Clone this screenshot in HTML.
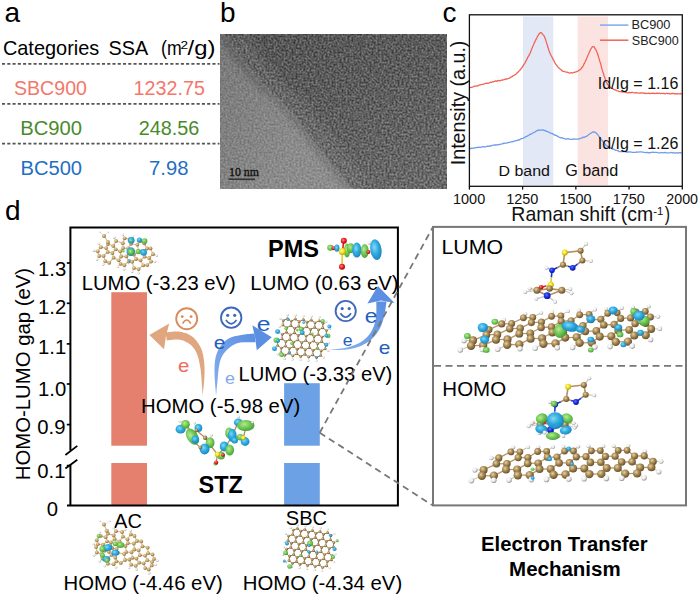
<!DOCTYPE html>
<html><head><meta charset="utf-8"><style>
html,body{margin:0;padding:0;background:#fff;width:700px;height:597px;overflow:hidden}
svg{display:block}
text{white-space:pre}
</style></head><body>
<svg width="700" height="597" viewBox="0 0 700 597">
<text transform="translate(5.70,21.90) scale(1.0000,1) translate(-1.12,0)" font-family='"Liberation Sans",sans-serif' font-weight="normal" font-size="28" fill="#000">a</text>
<text transform="translate(3.90,54.80) scale(0.9773,1) translate(-1.02,0)" font-family='"Liberation Sans",sans-serif' font-weight="normal" font-size="20.4" fill="#000">Categories</text>
<text transform="translate(109.40,54.60) scale(0.9704,1) translate(-0.92,0)" font-family='"Liberation Sans",sans-serif' font-weight="normal" font-size="20.4" fill="#000">SSA</text>
<text transform="translate(162.10,54.60) scale(0.8678,1) translate(-1.22,0)" font-family='"Liberation Sans",sans-serif' font-weight="normal" font-size="20.4" fill="#000">(m</text>
<text transform="translate(181.20,48.70) scale(1.1548,1) translate(-0.59,0)" font-family='"Liberation Sans",sans-serif' font-weight="normal" font-size="11.8" fill="#000">2</text>
<text transform="translate(187.60,54.60) scale(1.1711,1) translate(-0.00,0)" font-family='"Liberation Sans",sans-serif' font-weight="normal" font-size="20.4" fill="#000">/g)</text>
<line x1="2" y1="63.8" x2="219.5" y2="63.8" stroke="#555" stroke-width="1.7" stroke-dasharray="3.1 2.16"/>
<line x1="2" y1="103.9" x2="219.5" y2="103.9" stroke="#555" stroke-width="1.7" stroke-dasharray="3.1 2.16"/>
<line x1="2" y1="143.7" x2="219.5" y2="143.7" stroke="#555" stroke-width="1.7" stroke-dasharray="3.1 2.16"/>
<text transform="translate(14.80,94.60) scale(0.9663,1) translate(-0.91,0)" font-family='"Liberation Sans",sans-serif' font-weight="normal" font-size="20.3" fill="#F3786B">SBC900</text>
<text transform="translate(135.10,94.60) scale(0.9711,1) translate(-1.52,0)" font-family='"Liberation Sans",sans-serif' font-weight="normal" font-size="20.3" fill="#F3786B">1232.75</text>
<text transform="translate(21.90,134.60) scale(0.9953,1) translate(-1.62,0)" font-family='"Liberation Sans",sans-serif' font-weight="normal" font-size="20.3" fill="#4A8A2C">BC900</text>
<text transform="translate(139.70,134.60) scale(0.9769,1) translate(-1.02,0)" font-family='"Liberation Sans",sans-serif' font-weight="normal" font-size="20.3" fill="#4A8A2C">248.56</text>
<text transform="translate(22.10,174.60) scale(0.9919,1) translate(-1.62,0)" font-family='"Liberation Sans",sans-serif' font-weight="normal" font-size="20.3" fill="#1F6FC2">BC500</text>
<text transform="translate(150.10,174.80) scale(0.9958,1) translate(-1.02,0)" font-family='"Liberation Sans",sans-serif' font-weight="normal" font-size="20.3" fill="#1F6FC2">7.98</text>
<text transform="translate(221.70,22.00) scale(1.0000,1) translate(-1.82,0)" font-family='"Liberation Sans",sans-serif' font-weight="normal" font-size="28" fill="#000">b</text>

<defs>
 <clipPath id="temclip"><rect x="220" y="34" width="227" height="155"/></clipPath>
 <filter id="temnoise" x="0" y="0" width="100%" height="100%" color-interpolation-filters="sRGB">
  <feTurbulence type="fractalNoise" baseFrequency="0.5" numOctaves="2" seed="3" result="n"/>
  <feColorMatrix type="matrix" values="1 0 0 0 0  1 0 0 0 0  1 0 0 0 0  0 0 0 0 1"/>
  <feComponentTransfer><feFuncR type="linear" slope="2.0" intercept="-0.5"/><feFuncG type="linear" slope="2.0" intercept="-0.5"/><feFuncB type="linear" slope="2.0" intercept="-0.5"/></feComponentTransfer>
 </filter>
 <linearGradient id="temlight" x1="0" y1="0" x2="1" y2="0.3">
  <stop offset="0" stop-color="#787878"/><stop offset="0.5" stop-color="#8e8e8e"/><stop offset="1" stop-color="#959595"/>
 </linearGradient>
 <linearGradient id="temdark" x1="0.2" y1="0" x2="0.8" y2="1">
  <stop offset="0" stop-color="#484848"/><stop offset="0.45" stop-color="#525252"/><stop offset="1" stop-color="#636363"/>
 </linearGradient>
 <filter id="blur2"><feGaussianBlur stdDeviation="5"/></filter>
 <filter id="blur1"><feGaussianBlur stdDeviation="1"/></filter>
</defs>
<g clip-path="url(#temclip)">
 <rect x="220" y="34" width="227" height="155" fill="url(#temlight)"/>
 <path d="M218,34 C232,55 255,85 277,100 C295,118 313,145 330,165 C340,178 347,186 351,189 L447,189 L447,34 Z" fill="url(#temdark)" filter="url(#blur2)" opacity="0.8"/>
 <path d="M225,34 C238,55 260,85 280,100 C298,118 316,145 333,165 C343,178 350,186 354,189 L447,189 L447,34 Z" fill="url(#temdark)"/>
 <path d="M236,36 C249,56 271,86 291,101 C309,119 327,146 344,166 C354,179 361,187 365,190" fill="none" stroke="#7a7a7a" stroke-width="16" opacity="0.45" filter="url(#blur2)"/>
 <path d="M226,36 C239,56 261,86 281,101 C299,119 317,146 334,166 C344,179 351,187 355,190" fill="none" stroke="#aaa" stroke-width="1.2" opacity="0.5" filter="url(#blur1)"/>
 <clipPath id="darkclip"><path d="M225,34 C238,55 260,85 280,100 C298,118 316,145 333,165 C343,178 350,186 354,189 L447,189 L447,34 Z"/></clipPath>
 <rect x="220" y="34" width="227" height="155" filter="url(#temnoise)" opacity="0.14"/>
 <rect x="220" y="34" width="227" height="155" filter="url(#temnoise)" opacity="0.14" clip-path="url(#darkclip)"/>
</g>

<text stroke="#111" stroke-width="0.35" transform="translate(230.00,175.70) scale(0.9669,1) translate(-1.05,0)" font-family='"Liberation Serif",serif' font-weight="normal" font-size="12.3" fill="#111">10 nm</text>
<line x1="228.6" y1="179.2" x2="255" y2="179.2" stroke="#2a2a2a" stroke-width="1.4"/>
<text transform="translate(443.60,21.70) scale(1.0000,1) translate(-1.12,0)" font-family='"Liberation Sans",sans-serif' font-weight="normal" font-size="28" fill="#000">c</text>
<rect x="523" y="16.5" width="30.3" height="168.5" fill="#E3E8F6"/>
<rect x="577.7" y="16.5" width="30.2" height="168.5" fill="#FAE3E0"/>
<path d="M469.60,87.59 L470.14,87.54 L470.77,87.43 L471.48,87.36 L472.26,87.03 L473.11,86.95 L474.02,86.11 L474.99,86.18 L476.00,86.27 L477.05,85.81 L478.14,85.73 L479.25,84.91 L480.38,84.88 L481.53,84.45 L482.68,84.38 L483.83,84.13 L484.97,83.46 L486.09,83.33 L487.19,83.10 L488.27,83.29 L489.30,82.93 L490.30,82.26 L491.33,82.46 L492.38,81.76 L493.44,81.86 L494.52,81.29 L495.60,80.97 L496.69,81.36 L497.78,80.67 L498.86,80.45 L499.94,80.76 L501.01,80.45 L502.07,79.81 L503.11,80.05 L504.13,79.51 L505.12,79.35 L506.09,78.76 L507.03,79.01 L507.93,78.55 L508.80,78.45 L509.62,78.10 L510.40,77.36 L511.60,76.85 L512.69,76.15 L513.68,75.56 L514.59,74.91 L515.42,74.46 L516.21,74.03 L516.95,72.94 L517.66,72.71 L518.36,71.74 L519.05,70.94 L519.76,70.48 L520.50,69.39 L521.10,68.54 L521.69,67.90 L522.26,67.26 L522.83,65.98 L523.39,65.77 L523.94,64.23 L524.48,63.85 L525.01,63.00 L525.54,61.51 L526.05,61.12 L526.56,59.89 L527.06,59.11 L527.54,57.79 L528.03,56.89 L528.50,56.08 L528.96,55.70 L529.41,54.23 L529.85,53.66 L530.28,52.80 L530.70,51.83 L531.11,50.42 L531.51,49.44 L531.91,48.58 L532.30,47.78 L532.69,46.36 L533.07,45.88 L533.46,45.01 L533.84,44.18 L534.22,42.77 L534.60,42.61 L535.17,40.85 L535.74,39.85 L536.30,38.87 L536.85,37.97 L537.39,36.51 L537.93,35.96 L538.46,34.84 L538.98,33.97 L539.50,33.43 L540.00,32.97 L540.81,32.68 L541.57,32.91 L542.32,33.82 L543.06,34.91 L543.81,35.50 L544.60,36.88 L544.92,38.23 L545.24,38.70 L545.56,39.48 L545.87,40.30 L546.19,41.55 L546.51,42.77 L546.84,43.60 L547.16,44.69 L547.50,45.56 L547.84,47.29 L548.19,47.80 L548.55,49.23 L548.92,50.54 L549.30,51.07 L549.70,52.46 L550.14,53.63 L550.61,54.44 L551.09,55.58 L551.59,56.14 L552.10,57.40 L552.62,58.21 L553.14,59.70 L553.67,60.29 L554.20,61.34 L554.72,62.63 L555.23,63.38 L555.74,64.28 L556.23,64.67 L556.70,65.39 L557.49,66.63 L558.24,67.36 L558.97,67.99 L559.68,68.73 L560.40,69.11 L561.13,69.78 L561.89,70.68 L562.70,71.12 L563.67,71.39 L564.67,71.73 L565.70,71.98 L566.75,72.10 L567.83,72.45 L568.91,72.94 L570.00,73.06 L570.99,72.68 L572.02,72.89 L573.08,72.74 L574.14,72.47 L575.19,72.19 L576.19,71.95 L577.14,71.31 L578.00,71.14 L578.88,70.33 L579.68,69.90 L580.41,69.45 L581.08,68.69 L581.73,67.63 L582.36,67.24 L583.00,66.10 L583.48,65.28 L583.93,64.04 L584.36,63.54 L584.78,62.40 L585.19,61.73 L585.61,60.59 L586.05,59.82 L586.51,58.66 L587.00,57.71 L587.43,56.46 L587.89,55.61 L588.36,54.55 L588.85,53.44 L589.35,51.93 L589.85,51.13 L590.35,50.07 L590.84,48.97 L591.31,48.34 L591.77,47.67 L592.20,46.91 L593.08,46.57 L593.89,46.60 L594.66,47.88 L595.42,49.15 L596.20,50.28 L596.53,51.13 L596.87,51.94 L597.20,52.83 L597.53,53.39 L597.86,54.82 L598.19,55.74 L598.53,56.89 L598.86,57.84 L599.19,59.12 L599.53,60.36 L599.86,61.39 L600.20,62.55 L600.49,63.02 L600.77,64.11 L601.06,65.32 L601.34,66.51 L601.62,67.26 L601.90,68.65 L602.19,69.67 L602.47,70.32 L602.77,71.66 L603.06,72.52 L603.36,73.40 L603.67,74.43 L603.98,75.49 L604.30,76.28 L604.70,77.37 L605.07,78.31 L605.43,79.63 L605.80,80.56 L606.17,81.68 L606.56,82.59 L606.99,83.22 L607.47,84.53 L608.01,84.69 L608.61,85.73 L609.30,86.34 L609.98,87.04 L610.69,87.39 L611.44,88.42 L612.21,88.58 L613.04,88.79 L613.91,89.61 L614.83,89.63 L615.81,90.31 L616.85,90.50 L617.96,90.98 L619.14,91.54 L620.40,91.72 L621.18,91.60 L621.95,92.01 L622.73,92.02 L623.51,91.94 L624.30,91.89 L625.10,92.30 L625.93,92.36 L626.78,92.71 L627.66,92.78 L628.57,92.59 L629.52,92.46 L630.51,92.89 L631.55,92.32 L632.64,92.44 L633.78,92.80 L634.99,92.88 L636.26,92.59 L637.59,92.98 L639.01,93.22 L640.50,92.91 L641.27,92.98 L642.09,92.86 L642.95,92.94 L643.86,93.44 L644.80,93.05 L645.78,93.48 L646.79,93.48 L647.84,93.28 L648.91,93.07 L650.00,93.60 L651.12,93.28 L652.26,93.25 L653.42,93.21 L654.59,93.69 L655.77,93.37 L656.96,93.25 L658.16,93.41 L659.36,93.18 L660.56,93.55 L661.76,93.44 L662.95,93.36 L664.14,93.72 L665.32,93.77 L666.48,93.22 L667.63,93.60 L668.76,93.44 L669.87,93.92 L670.96,93.83 L672.02,93.47 L673.05,93.50 L674.05,93.43 L675.01,94.03 L675.94,93.56 L676.83,93.79 L677.67,93.71 L678.47,93.85 L679.23,93.83 L679.93,93.94 L680.58,93.51 L681.17,93.97 L681.70,93.80" fill="none" stroke="#F06558" stroke-width="1.3" stroke-linejoin="round"/>
<path d="M469.60,148.58 L470.13,148.38 L470.74,148.65 L471.41,148.15 L472.14,148.38 L472.94,148.15 L473.78,147.83 L474.68,148.02 L475.63,147.57 L476.61,147.72 L477.63,147.33 L478.69,147.21 L479.77,147.30 L480.89,147.43 L482.02,146.79 L483.16,146.70 L484.33,146.83 L485.49,146.89 L486.67,146.47 L487.84,146.18 L489.01,146.43 L490.17,145.61 L491.32,146.01 L492.45,145.45 L493.56,145.18 L494.65,144.99 L495.70,144.96 L496.73,145.16 L497.71,144.55 L498.65,144.67 L499.55,144.55 L500.40,144.21 L501.66,144.09 L502.89,143.51 L504.09,143.26 L505.27,143.12 L506.41,143.20 L507.53,142.77 L508.63,142.43 L509.70,142.37 L510.74,142.01 L511.75,141.65 L512.74,141.73 L513.70,141.41 L514.64,140.83 L515.55,140.80 L516.44,140.50 L517.30,140.49 L518.13,140.13 L518.95,139.56 L519.74,139.79 L520.50,138.93 L521.79,138.68 L522.93,138.46 L523.95,137.57 L524.88,137.34 L525.72,136.56 L526.52,136.54 L527.28,136.15 L528.04,135.57 L528.81,135.33 L529.63,134.50 L530.50,134.34 L531.41,133.81 L532.33,133.31 L533.25,132.72 L534.17,132.47 L535.08,132.03 L536.00,131.22 L536.92,130.92 L537.84,130.11 L538.76,130.26 L539.68,130.01 L540.60,130.15 L541.61,130.05 L542.62,129.82 L543.63,130.14 L544.64,130.67 L545.66,130.62 L546.67,131.37 L547.68,131.64 L548.69,132.07 L549.69,132.48 L550.70,133.39 L551.71,133.35 L552.73,133.87 L553.76,134.43 L554.79,135.24 L555.81,135.16 L556.83,135.89 L557.83,136.41 L558.81,137.06 L559.77,137.39 L560.70,137.75 L561.81,137.70 L562.88,138.10 L563.90,138.32 L564.91,138.91 L565.90,139.14 L566.91,138.73 L567.94,138.87 L569.00,139.01 L569.98,139.08 L570.99,139.30 L572.01,139.40 L573.04,139.17 L574.08,138.96 L575.11,139.20 L576.13,139.07 L577.13,139.10 L578.10,139.22 L579.16,138.82 L580.20,138.44 L581.22,138.20 L582.22,137.90 L583.21,137.10 L584.21,137.30 L585.20,136.81 L586.20,136.46 L587.22,135.90 L588.25,134.98 L589.30,134.29 L590.33,133.38 L591.35,133.12 L592.34,132.22 L593.30,131.93 L594.20,132.00 L595.05,132.23 L595.84,132.86 L596.59,133.36 L597.32,134.16 L598.03,135.19 L598.74,136.11 L599.46,137.23 L600.20,137.87 L600.85,139.21 L601.47,139.82 L602.08,140.32 L602.69,141.22 L603.32,142.12 L603.97,142.95 L604.68,143.58 L605.45,144.84 L606.30,145.65 L607.05,145.82 L607.85,146.37 L608.69,146.62 L609.56,147.14 L610.46,147.80 L611.39,148.21 L612.34,149.05 L613.32,149.00 L614.30,149.29 L615.30,150.30 L616.30,150.32 L617.10,150.31 L617.72,150.80 L618.21,150.62 L618.65,151.13 L619.11,151.57 L619.64,151.60 L620.33,151.59 L621.24,151.37 L622.43,151.53 L623.97,151.47 L625.94,151.99 L628.40,151.92 L629.04,152.12 L629.73,151.83 L630.46,151.78 L631.23,152.22 L632.05,152.36 L632.90,152.29 L633.79,152.28 L634.72,152.32 L635.68,152.28 L636.67,151.95 L637.69,152.18 L638.73,152.09 L639.81,151.88 L640.90,151.90 L642.02,152.10 L643.16,152.11 L644.31,152.43 L645.48,152.64 L646.67,152.31 L647.86,152.67 L649.07,152.73 L650.28,152.73 L651.51,152.33 L652.73,152.25 L653.96,152.28 L655.19,152.28 L656.42,152.30 L657.65,152.62 L658.87,152.83 L660.08,152.81 L661.28,152.57 L662.48,152.71 L663.66,152.83 L664.83,152.35 L665.98,152.77 L667.11,152.96 L668.22,152.89 L669.31,152.88 L670.37,152.71 L671.41,152.51 L672.43,152.96 L673.41,152.65 L674.36,152.99 L675.27,153.13 L676.16,152.74 L677.00,152.75 L677.80,153.15 L678.57,153.00 L679.29,152.63 L679.96,152.61 L680.59,152.64 L681.17,153.17 L681.70,152.90" fill="none" stroke="#6F9DEB" stroke-width="1.3" stroke-linejoin="round"/>
<rect x="469.4" y="14.8" width="212.89999999999998" height="171.5" fill="none" stroke="#111" stroke-width="1.3"/>
<line x1="469.40" y1="186.3" x2="469.40" y2="189.60000000000002" stroke="#111" stroke-width="1.3"/>
<line x1="522.62" y1="186.3" x2="522.62" y2="189.60000000000002" stroke="#111" stroke-width="1.3"/>
<line x1="575.85" y1="186.3" x2="575.85" y2="189.60000000000002" stroke="#111" stroke-width="1.3"/>
<line x1="629.07" y1="186.3" x2="629.07" y2="189.60000000000002" stroke="#111" stroke-width="1.3"/>
<line x1="682.30" y1="186.3" x2="682.30" y2="189.60000000000002" stroke="#111" stroke-width="1.3"/>
<line x1="600" y1="25.1" x2="628.4" y2="25.1" stroke="#7FA8F0" stroke-width="1.5"/>
<line x1="600" y1="40.2" x2="628.4" y2="40.2" stroke="#F06558" stroke-width="1.5"/>
<text transform="translate(632.40,29.30) scale(1.0398,1) translate(-0.98,0)" font-family='"Liberation Sans",sans-serif' font-weight="normal" font-size="12.3" fill="#222">BC900</text>
<text transform="translate(632.40,44.70) scale(1.0238,1) translate(-0.55,0)" font-family='"Liberation Sans",sans-serif' font-weight="normal" font-size="12.3" fill="#222">SBC900</text>
<text transform="translate(599.20,88.50) scale(1.0269,1) translate(-1.40,0)" font-family='"Liberation Sans",sans-serif' font-weight="normal" font-size="15.6" fill="#111">Id/Ig = 1.16</text>
<text transform="translate(599.20,148.90) scale(1.0269,1) translate(-1.40,0)" font-family='"Liberation Sans",sans-serif' font-weight="normal" font-size="15.6" fill="#111">Id/Ig = 1.26</text>
<text transform="translate(499.70,175.90) scale(1.0462,1) translate(-1.22,0)" font-family='"Liberation Sans",sans-serif' font-weight="normal" font-size="15.3" fill="#111">D band</text>
<text transform="translate(566.00,176.00) scale(1.0390,1) translate(-0.78,0)" font-family='"Liberation Sans",sans-serif' font-weight="normal" font-size="15.6" fill="#111">G band</text>
<text transform="translate(454.10,203.70) scale(0.9645,1) translate(-1.12,0)" font-family='"Liberation Sans",sans-serif' font-weight="normal" font-size="15.0" fill="#111">1000</text>
<text transform="translate(507.32,203.70) scale(0.9645,1) translate(-1.12,0)" font-family='"Liberation Sans",sans-serif' font-weight="normal" font-size="15.0" fill="#111">1250</text>
<text transform="translate(560.55,203.70) scale(0.9645,1) translate(-1.12,0)" font-family='"Liberation Sans",sans-serif' font-weight="normal" font-size="15.0" fill="#111">1500</text>
<text transform="translate(613.77,203.70) scale(0.9645,1) translate(-1.12,0)" font-family='"Liberation Sans",sans-serif' font-weight="normal" font-size="15.0" fill="#111">1750</text>
<text transform="translate(667.00,203.70) scale(0.9533,1) translate(-0.75,0)" font-family='"Liberation Sans",sans-serif' font-weight="normal" font-size="15.0" fill="#111">2000</text>
<text transform="translate(512.90,221.30) scale(0.9797,1) translate(-1.59,0)" font-family='"Liberation Sans",sans-serif' font-weight="normal" font-size="19.9" fill="#111">Raman shift (cm</text>
<text transform="translate(653.70,215.20) scale(0.9829,1) translate(-0.53,0)" font-family='"Liberation Sans",sans-serif' font-weight="normal" font-size="11.7" fill="#111">-1</text>
<text transform="translate(664.90,221.30) scale(0.7964,1) translate(-0.10,0)" font-family='"Liberation Sans",sans-serif' font-weight="normal" font-size="19.9" fill="#111">)</text>
<text transform="translate(464.70,163.50) rotate(-90) scale(0.9992,1) translate(-1.77,0)" font-family='"Liberation Sans",sans-serif' font-weight="normal" font-size="19.7" fill="#111">Intensity (a.u.)</text>
<text transform="translate(6.00,219.50) scale(1.0000,1) translate(-1.12,0)" font-family='"Liberation Sans",sans-serif' font-weight="normal" font-size="28" fill="#000">d</text>
<rect x="111.3" y="292.2" width="35.70" height="153.50" fill="#E5806F"/>
<rect x="111.3" y="463.0" width="35.70" height="42.10" fill="#E5806F"/>
<rect x="284.1" y="383.2" width="35.70" height="62.50" fill="#6DA1E6"/>
<rect x="284.1" y="463.0" width="35.70" height="42.10" fill="#6DA1E6"/>
<path d="M70.4,450.5 L70.4,227.5 L397.9,227.5 L397.9,505.4 L67.0,505.4" fill="none" stroke="#000" stroke-width="2"/>
<path d="M70.4,464.7 L70.4,505.4" fill="none" stroke="#000" stroke-width="2"/>
<path d="M65.4,455 L77.3,445.9 M65.4,468.5 L77.3,459.7" stroke="#000" stroke-width="1.8"/>
<line x1="66.8" y1="263.0" x2="70.4" y2="263.0" stroke="#000" stroke-width="1.7"/>
<line x1="66.8" y1="303.3" x2="70.4" y2="303.3" stroke="#000" stroke-width="1.7"/>
<line x1="66.8" y1="343.9" x2="70.4" y2="343.9" stroke="#000" stroke-width="1.7"/>
<line x1="66.8" y1="384.0" x2="70.4" y2="384.0" stroke="#000" stroke-width="1.7"/>
<line x1="66.8" y1="424.6" x2="70.4" y2="424.6" stroke="#000" stroke-width="1.7"/>
<line x1="66.8" y1="465.6" x2="70.4" y2="465.6" stroke="#000" stroke-width="1.7"/>
<text transform="translate(39.60,276.30) scale(1.0000,1) translate(-1.52,0)" font-family='"Liberation Sans",sans-serif' font-weight="normal" font-size="20.3" fill="#000">1.3</text>
<text transform="translate(39.60,314.30) scale(1.0000,1) translate(-1.52,0)" font-family='"Liberation Sans",sans-serif' font-weight="normal" font-size="20.3" fill="#000">1.2</text>
<text transform="translate(39.60,353.80) scale(1.0000,1) translate(-1.52,0)" font-family='"Liberation Sans",sans-serif' font-weight="normal" font-size="20.3" fill="#000">1.1</text>
<text transform="translate(39.60,396.20) scale(1.0000,1) translate(-1.52,0)" font-family='"Liberation Sans",sans-serif' font-weight="normal" font-size="20.3" fill="#000">1.0</text>
<text transform="translate(38.10,434.30) scale(1.0000,1) translate(-0.81,0)" font-family='"Liberation Sans",sans-serif' font-weight="normal" font-size="20.3" fill="#000">0.9</text>
<text transform="translate(38.10,478.20) scale(1.0000,1) translate(-0.81,0)" font-family='"Liberation Sans",sans-serif' font-weight="normal" font-size="20.3" fill="#000">0.1</text>
<text transform="translate(47.50,516.40) scale(1.0000,1) translate(-0.81,0)" font-family='"Liberation Sans",sans-serif' font-weight="normal" font-size="20.3" fill="#000">0</text>
<text transform="translate(30.20,478.50) rotate(-90) scale(0.9817,1) translate(-1.66,0)" font-family='"Liberation Sans",sans-serif' font-weight="normal" font-size="20.7" fill="#000">HOMO-LUMO gap (eV)</text>
<text transform="translate(83.30,290.40) scale(0.9929,1) translate(-1.63,0)" font-family='"Liberation Sans",sans-serif' font-weight="normal" font-size="20.4" fill="#000">LUMO (-3.23 eV)</text>
<text transform="translate(252.00,290.20) scale(0.9983,1) translate(-1.63,0)" font-family='"Liberation Sans",sans-serif' font-weight="normal" font-size="20.4" fill="#000">LUMO (0.63 eV)</text>
<text transform="translate(142.60,412.60) scale(0.9970,1) translate(-1.63,0)" font-family='"Liberation Sans",sans-serif' font-weight="normal" font-size="20.4" fill="#000">HOMO (-5.98 eV)</text>
<text transform="translate(240.10,380.90) scale(0.9915,1) translate(-1.63,0)" font-family='"Liberation Sans",sans-serif' font-weight="normal" font-size="20.4" fill="#000">LUMO (-3.33 eV)</text>
<text transform="translate(65.10,590.40) scale(0.9970,1) translate(-1.63,0)" font-family='"Liberation Sans",sans-serif' font-weight="normal" font-size="20.4" fill="#000">HOMO (-4.46 eV)</text>
<text transform="translate(244.30,590.40) scale(0.9989,1) translate(-1.63,0)" font-family='"Liberation Sans",sans-serif' font-weight="normal" font-size="20.4" fill="#000">HOMO (-4.34 eV)</text>
<text transform="translate(269.50,257.20) scale(0.9745,1) translate(-1.57,0)" font-family='"Liberation Sans",sans-serif' font-weight="bold" font-size="24.2" fill="#000">PMS</text>
<text transform="translate(199.30,492.90) scale(0.9706,1) translate(-0.73,0)" font-family='"Liberation Sans",sans-serif' font-weight="bold" font-size="24.2" fill="#000">STZ</text>
<text transform="translate(114.10,527.60) scale(0.9804,1) translate(-0.00,0)" font-family='"Liberation Sans",sans-serif' font-weight="normal" font-size="20.4" fill="#000">AC</text>
<text transform="translate(286.70,524.60) scale(0.9829,1) translate(-0.92,0)" font-family='"Liberation Sans",sans-serif' font-weight="normal" font-size="20.4" fill="#000">SBC</text>
<path d="M165.70,332.40 C167.85,332.27 174.67,331.20 178.60,331.60 C182.53,332.00 186.27,333.20 189.30,334.80 C192.33,336.40 194.67,338.48 196.80,341.20 C198.93,343.92 200.83,347.13 202.10,351.10 C203.37,355.07 204.05,360.18 204.40,365.00 C204.75,369.82 204.50,374.92 204.20,380.00 C203.90,385.08 202.87,392.92 202.60,395.50 L202.60,395.50 C202.45,393.27 202.03,386.47 201.70,382.10 C201.37,377.73 201.23,373.58 200.60,369.30 C199.97,365.02 199.07,359.97 197.90,356.40 C196.73,352.83 195.40,350.22 193.60,347.90 C191.80,345.58 189.60,343.88 187.10,342.50 C184.60,341.12 181.98,339.95 178.60,339.60 C175.22,339.25 168.77,340.27 166.80,340.40 Z" fill="#DFA67F"/>
<path d="M149.4,335 L169.2,323.6 L166,336 L164,349.2 Z" fill="#DFA67F"/>
<defs><linearGradient id="bl1" x1="0" y1="1" x2="1" y2="0"><stop offset="0" stop-color="#85B0EE"/><stop offset="0.6" stop-color="#6D9CE7"/><stop offset="1" stop-color="#5C8FE2"/></linearGradient>
<linearGradient id="bl2" x1="0" y1="1" x2="1" y2="0"><stop offset="0" stop-color="#8CB5EF"/><stop offset="0.5" stop-color="#6F9EE8"/><stop offset="1" stop-color="#5B8FE2"/></linearGradient></defs>
<path d="M216.10,395.50 C215.85,392.20 214.78,381.50 214.60,375.70 C214.42,369.90 214.40,364.98 215.00,360.70 C215.60,356.42 216.77,353.03 218.20,350.00 C219.63,346.97 221.28,344.65 223.60,342.50 C225.92,340.35 228.88,338.38 232.10,337.10 C235.32,335.82 239.17,335.38 242.90,334.80 C246.63,334.22 252.57,333.80 254.50,333.60 L255.50,342.30 C253.40,342.30 246.43,341.95 242.90,342.30 C239.37,342.65 236.98,343.12 234.30,344.40 C231.62,345.68 228.95,347.82 226.80,350.00 C224.65,352.18 222.72,354.65 221.40,357.50 C220.08,360.35 219.53,363.35 218.90,367.10 C218.27,370.85 218.07,375.27 217.60,380.00 C217.13,384.73 216.35,392.92 216.10,395.50 Z" fill="url(#bl1)"/>
<path d="M271.8,337.3 L252.3,325.2 L255.2,338 L256.8,350.2 Z" fill="#5C8FE2"/>
<path d="M329.40,349.90 C332.30,349.48 341.67,348.63 346.80,347.40 C351.93,346.17 356.45,344.65 360.20,342.50 C363.95,340.35 366.92,337.55 369.30,334.50 C371.68,331.45 373.33,327.70 374.50,324.20 C375.67,320.70 376.00,317.30 376.30,313.50 C376.60,309.70 376.30,303.42 376.30,301.40 L386.50,301.40 C386.15,303.67 385.52,310.47 384.40,315.00 C383.28,319.53 381.97,324.50 379.80,328.60 C377.63,332.70 374.67,336.67 371.40,339.60 C368.13,342.53 364.30,344.57 360.20,346.20 C356.10,347.83 351.93,348.78 346.80,349.40 C341.67,350.02 332.30,349.82 329.40,349.90 Z" fill="url(#bl2)"/>
<path d="M377.9,286 L367.4,303.6 L381,300.5 L394.6,302.9 Z" fill="#5C8FE2"/>
<path d="M319.7,432.7 L433,226.9 M319.7,432.7 L432,505" stroke="#777" stroke-width="1.8" stroke-dasharray="6.5 4.5" fill="none"/>
<circle cx="186.7" cy="318.7" r="10.5" fill="none" stroke="#D88C5C" stroke-width="1.85"/><circle cx="182.2" cy="316.59999999999997" r="1.45" fill="#D88C5C"/><circle cx="191.1" cy="316.59999999999997" r="1.45" fill="#D88C5C"/><path d="M182.6,323.59999999999997 Q186.7,316.4 190.79999999999998,323.59999999999997" fill="none" stroke="#D88C5C" stroke-width="1.6"/>
<circle cx="231.2" cy="317.7" r="10.2" fill="none" stroke="#3F68BD" stroke-width="1.85"/><circle cx="227.7" cy="315.3" r="1.6" fill="#3F68BD"/><circle cx="234.7" cy="315.3" r="1.6" fill="#3F68BD"/><path d="M225.89999999999998,319.9 Q231.2,327.9 236.5,319.9" fill="none" stroke="#3F68BD" stroke-width="1.6"/>
<circle cx="345.7" cy="311.0" r="10.1" fill="none" stroke="#3F68BD" stroke-width="1.85"/><circle cx="342.2" cy="308.6" r="1.6" fill="#3F68BD"/><circle cx="349.2" cy="308.6" r="1.6" fill="#3F68BD"/><path d="M340.4,313.2 Q345.7,321.2 351.0,313.2" fill="none" stroke="#3F68BD" stroke-width="1.6"/>
<text transform="translate(178.90,371.50) scale(1.1348,1) translate(-0.72,0)" font-family='"Liberation Sans",sans-serif' font-weight="normal" font-size="18" fill="#F06A5C">e</text>
<text transform="translate(214.50,348.50) scale(1.1702,1) translate(-0.72,0)" font-family='"Liberation Sans",sans-serif' font-weight="normal" font-size="18" fill="#1E60C0">e</text>
<text transform="translate(257.80,331.00) scale(1.2039,1) translate(-0.82,0)" font-family='"Liberation Sans",sans-serif' font-weight="normal" font-size="20.5" fill="#1E60C0">e</text>
<text transform="translate(225.70,384.00) scale(1.1170,1) translate(-0.64,0)" font-family='"Liberation Sans",sans-serif' font-weight="normal" font-size="16" fill="#80AAEC">e</text>
<text transform="translate(343.50,346.20) scale(1.1177,1) translate(-0.63,0)" font-family='"Liberation Sans",sans-serif' font-weight="normal" font-size="15.8" fill="#1E60C0">e</text>
<text transform="translate(365.60,322.80) scale(1.0998,1) translate(-0.83,0)" font-family='"Liberation Sans",sans-serif' font-weight="normal" font-size="20.7" fill="#1E60C0">e</text>
<text transform="translate(379.60,353.60) scale(1.1584,1) translate(-0.72,0)" font-family='"Liberation Sans",sans-serif' font-weight="normal" font-size="18" fill="#1E60C0">e</text>
<rect x="433" y="226.9" width="253" height="278.5" fill="none" stroke="#777" stroke-width="2"/>
<line x1="434" y1="365.8" x2="685" y2="365.8" stroke="#777" stroke-width="1.8" stroke-dasharray="7 4.5"/>
<text transform="translate(443.20,253.80) scale(1.0443,1) translate(-1.63,0)" font-family='"Liberation Sans",sans-serif' font-weight="normal" font-size="20.4" fill="#000">LUMO</text>
<text transform="translate(444.00,396.20) scale(1.0050,1) translate(-1.63,0)" font-family='"Liberation Sans",sans-serif' font-weight="normal" font-size="20.4" fill="#000">HOMO</text>
<text transform="translate(482.40,551.40) scale(0.9888,1) translate(-1.33,0)" font-family='"Liberation Sans",sans-serif' font-weight="bold" font-size="20.5" fill="#000">Electron Transfer</text>
<text transform="translate(510.40,575.80) scale(0.9994,1) translate(-1.33,0)" font-family='"Liberation Sans",sans-serif' font-weight="bold" font-size="20.5" fill="#000">Mechanism</text>
<defs>
<radialGradient id="gC" cx="0.38" cy="0.35" r="0.7"><stop offset="0" stop-color="#E8D2A2"/><stop offset="0.45" stop-color="#A88A55"/><stop offset="1" stop-color="#5E4826"/></radialGradient>
<radialGradient id="gC2" cx="0.38" cy="0.35" r="0.65"><stop offset="0" stop-color="#EED9A8"/><stop offset="0.5" stop-color="#C9A86E"/><stop offset="1" stop-color="#8A6E40"/></radialGradient>
<radialGradient id="gH" cx="0.38" cy="0.35" r="0.65"><stop offset="0" stop-color="#FFFFFF"/><stop offset="0.6" stop-color="#E8E8E8"/><stop offset="1" stop-color="#8E8E8E"/></radialGradient>
<radialGradient id="gB" cx="0.4" cy="0.38" r="0.65"><stop offset="0" stop-color="#7FD8F8"/><stop offset="0.5" stop-color="#25A8E0"/><stop offset="1" stop-color="#127EB8"/></radialGradient>
<radialGradient id="gG" cx="0.4" cy="0.38" r="0.65"><stop offset="0" stop-color="#B6EA8A"/><stop offset="0.5" stop-color="#6CC850"/><stop offset="1" stop-color="#3F9A30"/></radialGradient>
<radialGradient id="gS" cx="0.4" cy="0.38" r="0.65"><stop offset="0" stop-color="#FFFFA0"/><stop offset="0.5" stop-color="#F0E020"/><stop offset="1" stop-color="#B0A000"/></radialGradient>
<radialGradient id="gN" cx="0.4" cy="0.38" r="0.65"><stop offset="0" stop-color="#7070FF"/><stop offset="0.5" stop-color="#1530E0"/><stop offset="1" stop-color="#0A1A90"/></radialGradient>
<radialGradient id="gO" cx="0.4" cy="0.38" r="0.65"><stop offset="0" stop-color="#FF9090"/><stop offset="0.5" stop-color="#F02020"/><stop offset="1" stop-color="#A00000"/></radialGradient>
</defs>
<line x1="471.1" y1="345.7" x2="473.0" y2="340.4" stroke="#B89868" stroke-width="1.3"/>
<line x1="471.1" y1="345.7" x2="483.1" y2="345.4" stroke="#B89868" stroke-width="1.3"/>
<line x1="473.0" y1="340.4" x2="486.4" y2="334.8" stroke="#B89868" stroke-width="1.3"/>
<line x1="486.4" y1="334.8" x2="488.8" y2="329.6" stroke="#B89868" stroke-width="1.3"/>
<line x1="486.4" y1="334.8" x2="497.4" y2="334.4" stroke="#B89868" stroke-width="1.3"/>
<line x1="488.8" y1="329.6" x2="501.7" y2="323.9" stroke="#B89868" stroke-width="1.3"/>
<line x1="501.7" y1="323.9" x2="511.6" y2="323.5" stroke="#B89868" stroke-width="1.3"/>
<line x1="483.1" y1="345.4" x2="496.0" y2="339.7" stroke="#B89868" stroke-width="1.3"/>
<line x1="496.0" y1="339.7" x2="497.4" y2="334.4" stroke="#B89868" stroke-width="1.3"/>
<line x1="496.0" y1="339.7" x2="507.5" y2="339.4" stroke="#B89868" stroke-width="1.3"/>
<line x1="497.4" y1="334.4" x2="509.7" y2="328.7" stroke="#B89868" stroke-width="1.3"/>
<line x1="509.7" y1="328.7" x2="511.6" y2="323.5" stroke="#B89868" stroke-width="1.3"/>
<line x1="509.7" y1="328.7" x2="520.2" y2="328.3" stroke="#B89868" stroke-width="1.3"/>
<line x1="511.6" y1="323.5" x2="523.4" y2="317.8" stroke="#B89868" stroke-width="1.3"/>
<line x1="523.4" y1="317.8" x2="532.8" y2="317.3" stroke="#B89868" stroke-width="1.3"/>
<line x1="507.2" y1="344.8" x2="507.5" y2="339.4" stroke="#B89868" stroke-width="1.3"/>
<line x1="507.2" y1="344.8" x2="519.3" y2="344.4" stroke="#B89868" stroke-width="1.3"/>
<line x1="507.5" y1="339.4" x2="519.3" y2="333.7" stroke="#B89868" stroke-width="1.3"/>
<line x1="519.3" y1="333.7" x2="520.2" y2="328.3" stroke="#B89868" stroke-width="1.3"/>
<line x1="519.3" y1="333.7" x2="530.3" y2="333.3" stroke="#B89868" stroke-width="1.3"/>
<line x1="520.2" y1="328.3" x2="531.4" y2="322.6" stroke="#B89868" stroke-width="1.3"/>
<line x1="531.4" y1="322.6" x2="532.8" y2="317.3" stroke="#B89868" stroke-width="1.3"/>
<line x1="531.4" y1="322.6" x2="541.4" y2="322.1" stroke="#B89868" stroke-width="1.3"/>
<line x1="519.3" y1="344.4" x2="530.6" y2="338.7" stroke="#B89868" stroke-width="1.3"/>
<line x1="530.6" y1="338.7" x2="530.3" y2="333.3" stroke="#B89868" stroke-width="1.3"/>
<line x1="530.6" y1="338.7" x2="542.1" y2="338.3" stroke="#B89868" stroke-width="1.3"/>
<line x1="530.3" y1="333.3" x2="541.1" y2="327.5" stroke="#B89868" stroke-width="1.3"/>
<line x1="541.1" y1="327.5" x2="541.4" y2="322.1" stroke="#B89868" stroke-width="1.3"/>
<line x1="541.1" y1="327.5" x2="551.5" y2="327.0" stroke="#B89868" stroke-width="1.3"/>
<line x1="541.4" y1="322.1" x2="551.6" y2="316.3" stroke="#B89868" stroke-width="1.3"/>
<line x1="551.6" y1="316.3" x2="560.9" y2="315.8" stroke="#B89868" stroke-width="1.3"/>
<line x1="543.4" y1="343.8" x2="542.1" y2="338.3" stroke="#B89868" stroke-width="1.3"/>
<line x1="543.4" y1="343.8" x2="555.5" y2="343.5" stroke="#B89868" stroke-width="1.3"/>
<line x1="542.1" y1="338.3" x2="552.3" y2="332.5" stroke="#B89868" stroke-width="1.3"/>
<line x1="552.3" y1="332.5" x2="551.5" y2="327.0" stroke="#B89868" stroke-width="1.3"/>
<line x1="552.3" y1="332.5" x2="563.3" y2="332.1" stroke="#B89868" stroke-width="1.3"/>
<line x1="551.5" y1="327.0" x2="561.2" y2="321.2" stroke="#B89868" stroke-width="1.3"/>
<line x1="561.2" y1="321.2" x2="560.9" y2="315.8" stroke="#B89868" stroke-width="1.3"/>
<line x1="561.2" y1="321.2" x2="571.1" y2="320.7" stroke="#B89868" stroke-width="1.3"/>
<line x1="555.5" y1="343.5" x2="565.2" y2="337.6" stroke="#B89868" stroke-width="1.3"/>
<line x1="565.2" y1="337.6" x2="563.3" y2="332.1" stroke="#B89868" stroke-width="1.3"/>
<line x1="565.2" y1="337.6" x2="576.7" y2="337.3" stroke="#B89868" stroke-width="1.3"/>
<line x1="563.3" y1="332.1" x2="572.4" y2="326.2" stroke="#B89868" stroke-width="1.3"/>
<line x1="572.4" y1="326.2" x2="571.1" y2="320.7" stroke="#B89868" stroke-width="1.3"/>
<line x1="572.4" y1="326.2" x2="582.9" y2="325.8" stroke="#B89868" stroke-width="1.3"/>
<line x1="571.1" y1="320.7" x2="579.7" y2="314.8" stroke="#B89868" stroke-width="1.3"/>
<line x1="579.7" y1="314.8" x2="589.1" y2="314.3" stroke="#B89868" stroke-width="1.3"/>
<line x1="579.6" y1="342.9" x2="576.7" y2="337.3" stroke="#B89868" stroke-width="1.3"/>
<line x1="579.6" y1="342.9" x2="591.7" y2="342.6" stroke="#B89868" stroke-width="1.3"/>
<line x1="576.7" y1="337.3" x2="585.3" y2="331.3" stroke="#B89868" stroke-width="1.3"/>
<line x1="585.3" y1="331.3" x2="582.9" y2="325.8" stroke="#B89868" stroke-width="1.3"/>
<line x1="585.3" y1="331.3" x2="596.3" y2="330.9" stroke="#B89868" stroke-width="1.3"/>
<line x1="582.9" y1="325.8" x2="590.9" y2="319.8" stroke="#B89868" stroke-width="1.3"/>
<line x1="590.9" y1="319.8" x2="589.1" y2="314.3" stroke="#B89868" stroke-width="1.3"/>
<line x1="590.9" y1="319.8" x2="600.8" y2="319.3" stroke="#B89868" stroke-width="1.3"/>
<line x1="591.7" y1="342.6" x2="599.7" y2="336.6" stroke="#B89868" stroke-width="1.3"/>
<line x1="599.7" y1="336.6" x2="596.3" y2="330.9" stroke="#B89868" stroke-width="1.3"/>
<line x1="599.7" y1="336.6" x2="611.3" y2="336.2" stroke="#B89868" stroke-width="1.3"/>
<line x1="596.3" y1="330.9" x2="603.8" y2="324.9" stroke="#B89868" stroke-width="1.3"/>
<line x1="603.8" y1="324.9" x2="600.8" y2="319.3" stroke="#B89868" stroke-width="1.3"/>
<line x1="603.8" y1="324.9" x2="614.2" y2="324.5" stroke="#B89868" stroke-width="1.3"/>
<line x1="600.8" y1="319.3" x2="607.8" y2="313.3" stroke="#B89868" stroke-width="1.3"/>
<line x1="607.8" y1="313.3" x2="617.2" y2="312.8" stroke="#B89868" stroke-width="1.3"/>
<line x1="615.8" y1="341.9" x2="611.3" y2="336.2" stroke="#B89868" stroke-width="1.3"/>
<line x1="615.8" y1="341.9" x2="627.9" y2="341.6" stroke="#B89868" stroke-width="1.3"/>
<line x1="611.3" y1="336.2" x2="618.2" y2="330.2" stroke="#B89868" stroke-width="1.3"/>
<line x1="618.2" y1="330.2" x2="614.2" y2="324.5" stroke="#B89868" stroke-width="1.3"/>
<line x1="618.2" y1="330.2" x2="629.2" y2="329.8" stroke="#B89868" stroke-width="1.3"/>
<line x1="614.2" y1="324.5" x2="620.7" y2="318.4" stroke="#B89868" stroke-width="1.3"/>
<line x1="620.7" y1="318.4" x2="617.2" y2="312.8" stroke="#B89868" stroke-width="1.3"/>
<line x1="620.7" y1="318.4" x2="630.6" y2="317.9" stroke="#B89868" stroke-width="1.3"/>
<line x1="627.9" y1="341.6" x2="634.3" y2="335.5" stroke="#B89868" stroke-width="1.3"/>
<line x1="634.3" y1="335.5" x2="629.2" y2="329.8" stroke="#B89868" stroke-width="1.3"/>
<line x1="634.3" y1="335.5" x2="645.8" y2="335.2" stroke="#B89868" stroke-width="1.3"/>
<line x1="629.2" y1="329.8" x2="635.1" y2="323.6" stroke="#B89868" stroke-width="1.3"/>
<line x1="635.1" y1="323.6" x2="630.6" y2="317.9" stroke="#B89868" stroke-width="1.3"/>
<line x1="635.1" y1="323.6" x2="645.6" y2="323.2" stroke="#B89868" stroke-width="1.3"/>
<line x1="630.6" y1="317.9" x2="635.9" y2="311.8" stroke="#B89868" stroke-width="1.3"/>
<line x1="635.9" y1="311.8" x2="645.3" y2="311.3" stroke="#B89868" stroke-width="1.3"/>
<line x1="645.8" y1="335.2" x2="651.2" y2="329.0" stroke="#B89868" stroke-width="1.3"/>
<line x1="651.2" y1="329.0" x2="645.6" y2="323.2" stroke="#B89868" stroke-width="1.3"/>
<line x1="645.6" y1="323.2" x2="650.4" y2="317.0" stroke="#B89868" stroke-width="1.3"/>
<line x1="650.4" y1="317.0" x2="645.3" y2="311.3" stroke="#B89868" stroke-width="1.3"/>
<line x1="471.1" y1="345.7" x2="460.2" y2="350.0" stroke="#CFC6B4" stroke-width="1.1"/>
<line x1="473.0" y1="340.4" x2="464.0" y2="340.7" stroke="#CFC6B4" stroke-width="1.1"/>
<line x1="488.8" y1="329.6" x2="480.7" y2="329.9" stroke="#CFC6B4" stroke-width="1.1"/>
<line x1="501.7" y1="323.9" x2="504.0" y2="319.9" stroke="#CFC6B4" stroke-width="1.1"/>
<line x1="483.1" y1="345.4" x2="482.4" y2="349.5" stroke="#CFC6B4" stroke-width="1.1"/>
<line x1="523.4" y1="317.8" x2="525.3" y2="313.7" stroke="#CFC6B4" stroke-width="1.1"/>
<line x1="507.2" y1="344.8" x2="497.7" y2="349.2" stroke="#CFC6B4" stroke-width="1.1"/>
<line x1="532.8" y1="317.3" x2="541.2" y2="312.7" stroke="#CFC6B4" stroke-width="1.1"/>
<line x1="519.3" y1="344.4" x2="519.9" y2="348.7" stroke="#CFC6B4" stroke-width="1.1"/>
<line x1="551.6" y1="316.3" x2="552.2" y2="312.1" stroke="#CFC6B4" stroke-width="1.1"/>
<line x1="543.4" y1="343.8" x2="535.1" y2="348.3" stroke="#CFC6B4" stroke-width="1.1"/>
<line x1="560.9" y1="315.8" x2="568.1" y2="311.1" stroke="#CFC6B4" stroke-width="1.1"/>
<line x1="555.5" y1="343.5" x2="557.3" y2="347.8" stroke="#CFC6B4" stroke-width="1.1"/>
<line x1="579.7" y1="314.8" x2="579.0" y2="310.5" stroke="#CFC6B4" stroke-width="1.1"/>
<line x1="579.6" y1="342.9" x2="572.6" y2="347.5" stroke="#CFC6B4" stroke-width="1.1"/>
<line x1="589.1" y1="314.3" x2="595.0" y2="309.6" stroke="#CFC6B4" stroke-width="1.1"/>
<line x1="591.7" y1="342.6" x2="594.8" y2="347.0" stroke="#CFC6B4" stroke-width="1.1"/>
<line x1="607.8" y1="313.3" x2="605.9" y2="308.9" stroke="#CFC6B4" stroke-width="1.1"/>
<line x1="615.8" y1="341.9" x2="610.0" y2="346.6" stroke="#CFC6B4" stroke-width="1.1"/>
<line x1="617.2" y1="312.8" x2="621.8" y2="308.0" stroke="#CFC6B4" stroke-width="1.1"/>
<line x1="627.9" y1="341.6" x2="632.2" y2="346.1" stroke="#CFC6B4" stroke-width="1.1"/>
<line x1="635.9" y1="311.8" x2="632.8" y2="307.3" stroke="#CFC6B4" stroke-width="1.1"/>
<line x1="645.8" y1="335.2" x2="650.6" y2="339.7" stroke="#CFC6B4" stroke-width="1.1"/>
<line x1="651.2" y1="329.0" x2="659.8" y2="328.7" stroke="#CFC6B4" stroke-width="1.1"/>
<line x1="650.4" y1="317.0" x2="658.1" y2="316.6" stroke="#CFC6B4" stroke-width="1.1"/>
<line x1="645.3" y1="311.3" x2="648.7" y2="306.4" stroke="#CFC6B4" stroke-width="1.1"/>
<circle cx="525.3" cy="313.7" r="2.01" fill="url(#gH)"/>
<circle cx="541.2" cy="312.7" r="2.01" fill="url(#gH)"/>
<circle cx="595.0" cy="309.6" r="2.01" fill="url(#gH)"/>
<circle cx="552.2" cy="312.1" r="2.01" fill="url(#gH)"/>
<circle cx="568.1" cy="311.1" r="2.01" fill="url(#gH)"/>
<circle cx="579.0" cy="310.5" r="2.01" fill="url(#gH)"/>
<circle cx="605.9" cy="308.9" r="2.01" fill="url(#gH)"/>
<circle cx="621.8" cy="308.0" r="2.01" fill="url(#gH)"/>
<circle cx="632.8" cy="307.3" r="2.01" fill="url(#gH)"/>
<circle cx="648.7" cy="306.4" r="2.01" fill="url(#gH)"/>
<circle cx="523.4" cy="317.8" r="3.40" fill="url(#gC)"/>
<circle cx="532.8" cy="317.3" r="3.40" fill="url(#gC)"/>
<circle cx="551.6" cy="316.3" r="3.40" fill="url(#gC)"/>
<circle cx="560.9" cy="315.8" r="3.40" fill="url(#gC)"/>
<circle cx="579.7" cy="314.8" r="3.40" fill="url(#gC)"/>
<circle cx="589.1" cy="314.3" r="3.40" fill="url(#gC)"/>
<circle cx="607.8" cy="313.3" r="3.40" fill="url(#gC)"/>
<circle cx="617.2" cy="312.8" r="3.40" fill="url(#gC)"/>
<circle cx="635.9" cy="311.8" r="3.40" fill="url(#gC)"/>
<circle cx="645.3" cy="311.3" r="3.40" fill="url(#gC)"/>
<circle cx="504.0" cy="319.9" r="2.13" fill="url(#gH)"/>
<circle cx="501.7" cy="323.9" r="3.56" fill="url(#gC)"/>
<circle cx="511.6" cy="323.5" r="3.56" fill="url(#gC)"/>
<circle cx="531.4" cy="322.6" r="3.56" fill="url(#gC)"/>
<circle cx="541.4" cy="322.1" r="3.56" fill="url(#gC)"/>
<circle cx="561.2" cy="321.2" r="3.56" fill="url(#gC)"/>
<circle cx="571.1" cy="320.7" r="3.56" fill="url(#gC)"/>
<circle cx="590.9" cy="319.8" r="3.56" fill="url(#gC)"/>
<circle cx="600.8" cy="319.3" r="3.56" fill="url(#gC)"/>
<circle cx="620.7" cy="318.4" r="3.56" fill="url(#gC)"/>
<circle cx="630.6" cy="317.9" r="3.56" fill="url(#gC)"/>
<circle cx="650.4" cy="317.0" r="3.56" fill="url(#gC)"/>
<circle cx="658.1" cy="316.6" r="2.22" fill="url(#gH)"/>
<circle cx="480.7" cy="329.9" r="2.34" fill="url(#gH)"/>
<circle cx="488.8" cy="329.6" r="3.72" fill="url(#gC)"/>
<circle cx="509.7" cy="328.7" r="3.72" fill="url(#gC)"/>
<circle cx="520.2" cy="328.3" r="3.72" fill="url(#gC)"/>
<circle cx="541.1" cy="327.5" r="3.72" fill="url(#gC)"/>
<circle cx="551.5" cy="327.0" r="3.72" fill="url(#gC)"/>
<circle cx="572.4" cy="326.2" r="3.72" fill="url(#gC)"/>
<circle cx="582.9" cy="325.8" r="3.72" fill="url(#gC)"/>
<circle cx="603.8" cy="324.9" r="3.72" fill="url(#gC)"/>
<circle cx="614.2" cy="324.5" r="3.72" fill="url(#gC)"/>
<circle cx="635.1" cy="323.6" r="3.72" fill="url(#gC)"/>
<circle cx="645.6" cy="323.2" r="3.72" fill="url(#gC)"/>
<circle cx="486.4" cy="334.8" r="3.88" fill="url(#gC)"/>
<circle cx="497.4" cy="334.4" r="3.88" fill="url(#gC)"/>
<circle cx="519.3" cy="333.7" r="3.88" fill="url(#gC)"/>
<circle cx="530.3" cy="333.3" r="3.88" fill="url(#gC)"/>
<circle cx="552.3" cy="332.5" r="3.88" fill="url(#gC)"/>
<circle cx="563.3" cy="332.1" r="3.88" fill="url(#gC)"/>
<circle cx="585.3" cy="331.3" r="3.88" fill="url(#gC)"/>
<circle cx="596.3" cy="330.9" r="3.88" fill="url(#gC)"/>
<circle cx="618.2" cy="330.2" r="3.88" fill="url(#gC)"/>
<circle cx="629.2" cy="329.8" r="3.88" fill="url(#gC)"/>
<circle cx="651.2" cy="329.0" r="3.88" fill="url(#gC)"/>
<circle cx="659.8" cy="328.7" r="2.46" fill="url(#gH)"/>
<circle cx="473.0" cy="340.4" r="4.04" fill="url(#gC)"/>
<circle cx="496.0" cy="339.7" r="4.04" fill="url(#gC)"/>
<circle cx="507.5" cy="339.4" r="4.04" fill="url(#gC)"/>
<circle cx="530.6" cy="338.7" r="4.04" fill="url(#gC)"/>
<circle cx="542.1" cy="338.3" r="4.04" fill="url(#gC)"/>
<circle cx="565.2" cy="337.6" r="4.04" fill="url(#gC)"/>
<circle cx="576.7" cy="337.3" r="4.04" fill="url(#gC)"/>
<circle cx="599.7" cy="336.6" r="4.04" fill="url(#gC)"/>
<circle cx="611.3" cy="336.2" r="4.04" fill="url(#gC)"/>
<circle cx="634.3" cy="335.5" r="4.04" fill="url(#gC)"/>
<circle cx="645.8" cy="335.2" r="4.04" fill="url(#gC)"/>
<circle cx="464.0" cy="340.7" r="2.58" fill="url(#gH)"/>
<circle cx="650.6" cy="339.7" r="2.67" fill="url(#gH)"/>
<circle cx="471.1" cy="345.7" r="4.20" fill="url(#gC)"/>
<circle cx="483.1" cy="345.4" r="4.20" fill="url(#gC)"/>
<circle cx="507.2" cy="344.8" r="4.20" fill="url(#gC)"/>
<circle cx="519.3" cy="344.4" r="4.20" fill="url(#gC)"/>
<circle cx="543.4" cy="343.8" r="4.20" fill="url(#gC)"/>
<circle cx="555.5" cy="343.5" r="4.20" fill="url(#gC)"/>
<circle cx="579.6" cy="342.9" r="4.20" fill="url(#gC)"/>
<circle cx="591.7" cy="342.6" r="4.20" fill="url(#gC)"/>
<circle cx="615.8" cy="341.9" r="4.20" fill="url(#gC)"/>
<circle cx="627.9" cy="341.6" r="4.20" fill="url(#gC)"/>
<circle cx="535.1" cy="348.3" r="2.79" fill="url(#gH)"/>
<circle cx="557.3" cy="347.8" r="2.79" fill="url(#gH)"/>
<circle cx="594.8" cy="347.0" r="2.79" fill="url(#gH)"/>
<circle cx="460.2" cy="350.0" r="2.79" fill="url(#gH)"/>
<circle cx="482.4" cy="349.5" r="2.79" fill="url(#gH)"/>
<circle cx="519.9" cy="348.7" r="2.79" fill="url(#gH)"/>
<circle cx="497.7" cy="349.2" r="2.79" fill="url(#gH)"/>
<circle cx="572.6" cy="347.5" r="2.79" fill="url(#gH)"/>
<circle cx="610.0" cy="346.6" r="2.79" fill="url(#gH)"/>
<circle cx="632.2" cy="346.1" r="2.79" fill="url(#gH)"/>
<ellipse cx="482.9" cy="327.6" rx="5.2" ry="4.6" fill="url(#gB)" opacity="0.95"/>
<ellipse cx="484.6" cy="339.6" rx="4.6" ry="4.1" fill="url(#gB)" opacity="0.95"/>
<ellipse cx="494.9" cy="321.7" rx="3.4" ry="3.0" fill="url(#gG)" opacity="0.95"/>
<ellipse cx="467.4" cy="336.0" rx="3.4" ry="2.9" fill="url(#gG)" opacity="0.95"/>
<ellipse cx="486.3" cy="349.9" rx="3.4" ry="2.9" fill="url(#gG)" opacity="0.95"/>
<ellipse cx="560.0" cy="331.0" rx="6.3" ry="6.9" fill="url(#gG)" opacity="0.95"/>
<ellipse cx="570.0" cy="326.5" rx="8.6" ry="5.2" fill="url(#gB)" opacity="0.95" transform="rotate(10 570.0 326.5)"/>
<ellipse cx="580.6" cy="329.3" rx="4.6" ry="3.4" fill="url(#gB)" opacity="0.95"/>
<ellipse cx="590.8" cy="319.0" rx="4.6" ry="4.0" fill="url(#gB)" opacity="0.95"/>
<ellipse cx="590.8" cy="339.6" rx="3.4" ry="2.9" fill="url(#gB)" opacity="0.95"/>
<ellipse cx="613.1" cy="310.4" rx="4.6" ry="4.0" fill="url(#gB)" opacity="0.95"/>
<ellipse cx="618.3" cy="327.6" rx="4.0" ry="3.4" fill="url(#gB)" opacity="0.95"/>
<ellipse cx="620.0" cy="334.4" rx="3.4" ry="2.9" fill="url(#gG)" opacity="0.95"/>
<ellipse cx="633.7" cy="311.5" rx="3.4" ry="3.4" fill="url(#gG)" opacity="0.95"/>
<ellipse cx="644.0" cy="320.7" rx="5.8" ry="5.2" fill="url(#gG)" opacity="0.95"/>
<ellipse cx="638.8" cy="315.6" rx="5.8" ry="5.2" fill="url(#gB)" opacity="0.95"/>
<ellipse cx="623.4" cy="344.7" rx="2.9" ry="2.5" fill="url(#gB)" opacity="0.95"/>
<ellipse cx="590.8" cy="349.9" rx="2.9" ry="2.5" fill="url(#gG)" opacity="0.95"/>
<ellipse cx="640.5" cy="332.7" rx="3.4" ry="2.9" fill="url(#gB)" opacity="0.95"/>
<line x1="564.8" y1="252.6" x2="580.6" y2="250.8" stroke="#B0925E" stroke-width="1.6"/>
<line x1="580.6" y1="250.8" x2="582.4" y2="260.5" stroke="#B0925E" stroke-width="1.6"/>
<line x1="582.4" y1="260.5" x2="577.5" y2="264.1" stroke="#9A8A70" stroke-width="1.6"/>
<line x1="577.5" y1="264.1" x2="572.7" y2="267.8" stroke="#1530E0" stroke-width="1.6"/>
<line x1="572.7" y1="267.8" x2="567.9" y2="266.3" stroke="#1530E0" stroke-width="1.6"/>
<line x1="567.9" y1="266.3" x2="563.0" y2="264.8" stroke="#B0925E" stroke-width="1.6"/>
<line x1="563.0" y1="264.8" x2="564.8" y2="252.6" stroke="#B0925E" stroke-width="1.6"/>
<line x1="580.6" y1="250.8" x2="586.0" y2="244.1" stroke="#D0C8B8" stroke-width="1.2"/>
<line x1="582.4" y1="260.5" x2="590.9" y2="261.1" stroke="#D0C8B8" stroke-width="1.2"/>
<line x1="563.0" y1="264.8" x2="557.5" y2="267.5" stroke="#B0925E" stroke-width="1.6"/>
<line x1="557.5" y1="267.5" x2="552.0" y2="270.2" stroke="#1530E0" stroke-width="1.6"/>
<line x1="552.0" y1="270.2" x2="546.6" y2="267.8" stroke="#C0C0E0" stroke-width="1.2"/>
<line x1="552.0" y1="270.2" x2="551.4" y2="277.5" stroke="#1530E0" stroke-width="1.6"/>
<line x1="551.4" y1="277.5" x2="550.8" y2="284.8" stroke="#E0D020" stroke-width="1.6"/>
<line x1="550.8" y1="284.8" x2="546.0" y2="286.0" stroke="#E0D020" stroke-width="1.6"/>
<line x1="546.0" y1="286.0" x2="541.1" y2="287.2" stroke="#E02020" stroke-width="1.6"/>
<line x1="550.8" y1="284.8" x2="549.6" y2="288.6" stroke="#E0D020" stroke-width="1.6"/>
<line x1="536.9" y1="290.3" x2="549.6" y2="288.6" stroke="#B0925E" stroke-width="1.6"/>
<line x1="549.6" y1="288.6" x2="561.8" y2="290.3" stroke="#B0925E" stroke-width="1.6"/>
<line x1="536.9" y1="290.3" x2="547.2" y2="295.7" stroke="#B0925E" stroke-width="1.6"/>
<line x1="561.8" y1="290.3" x2="547.2" y2="295.7" stroke="#B0925E" stroke-width="1.6"/>
<line x1="536.9" y1="290.3" x2="529.6" y2="288.4" stroke="#D0C8B8" stroke-width="1.2"/>
<line x1="536.9" y1="290.3" x2="525.3" y2="292.0" stroke="#D0C8B8" stroke-width="1.2"/>
<line x1="561.8" y1="290.3" x2="570.3" y2="289.0" stroke="#D0C8B8" stroke-width="1.2"/>
<line x1="561.8" y1="290.3" x2="571.5" y2="293.3" stroke="#D0C8B8" stroke-width="1.2"/>
<line x1="547.2" y1="295.7" x2="536.3" y2="298.8" stroke="#C0C0E0" stroke-width="1.2"/>
<line x1="547.2" y1="295.7" x2="555.1" y2="301.8" stroke="#C0C0E0" stroke-width="1.2"/>
<circle cx="564.8" cy="252.6" r="3.00" fill="url(#gS)"/>
<circle cx="580.6" cy="250.8" r="3.00" fill="url(#gC)"/>
<circle cx="582.4" cy="260.5" r="3.00" fill="url(#gC)"/>
<circle cx="572.7" cy="267.8" r="2.90" fill="url(#gN)"/>
<circle cx="563.0" cy="264.8" r="3.00" fill="url(#gC)"/>
<circle cx="586.0" cy="244.1" r="2.00" fill="url(#gH)"/>
<circle cx="590.9" cy="261.1" r="2.00" fill="url(#gH)"/>
<circle cx="552.0" cy="270.2" r="2.80" fill="url(#gN)"/>
<circle cx="546.6" cy="267.8" r="1.90" fill="url(#gH)"/>
<circle cx="550.8" cy="284.8" r="3.00" fill="url(#gS)"/>
<circle cx="541.1" cy="287.2" r="2.30" fill="url(#gO)"/>
<circle cx="536.9" cy="290.3" r="3.50" fill="url(#gC)"/>
<circle cx="561.8" cy="290.3" r="3.50" fill="url(#gC)"/>
<circle cx="549.6" cy="288.6" r="3.20" fill="url(#gC)"/>
<circle cx="547.2" cy="295.7" r="3.40" fill="url(#gN)"/>
<circle cx="529.6" cy="288.4" r="2.00" fill="url(#gH)"/>
<circle cx="525.3" cy="292.0" r="2.00" fill="url(#gH)"/>
<circle cx="570.3" cy="289.0" r="2.00" fill="url(#gH)"/>
<circle cx="571.5" cy="293.3" r="2.00" fill="url(#gH)"/>
<circle cx="536.3" cy="298.8" r="2.00" fill="url(#gH)"/>
<circle cx="555.1" cy="301.8" r="2.00" fill="url(#gH)"/>
<line x1="481.9" y1="475.8" x2="483.6" y2="469.9" stroke="#B89868" stroke-width="1.3"/>
<line x1="481.9" y1="475.8" x2="493.9" y2="475.6" stroke="#B89868" stroke-width="1.3"/>
<line x1="483.6" y1="469.9" x2="496.4" y2="463.8" stroke="#B89868" stroke-width="1.3"/>
<line x1="496.4" y1="463.8" x2="498.8" y2="457.9" stroke="#B89868" stroke-width="1.3"/>
<line x1="496.4" y1="463.8" x2="506.9" y2="463.7" stroke="#B89868" stroke-width="1.3"/>
<line x1="498.8" y1="457.9" x2="510.9" y2="451.9" stroke="#B89868" stroke-width="1.3"/>
<line x1="510.9" y1="451.9" x2="519.9" y2="451.8" stroke="#B89868" stroke-width="1.3"/>
<line x1="493.9" y1="475.6" x2="506.0" y2="469.6" stroke="#B89868" stroke-width="1.3"/>
<line x1="506.0" y1="469.6" x2="506.9" y2="463.7" stroke="#B89868" stroke-width="1.3"/>
<line x1="506.0" y1="469.6" x2="517.2" y2="469.4" stroke="#B89868" stroke-width="1.3"/>
<line x1="506.9" y1="463.7" x2="518.2" y2="457.6" stroke="#B89868" stroke-width="1.3"/>
<line x1="518.2" y1="457.6" x2="519.9" y2="451.8" stroke="#B89868" stroke-width="1.3"/>
<line x1="518.2" y1="457.6" x2="527.9" y2="457.5" stroke="#B89868" stroke-width="1.3"/>
<line x1="517.8" y1="475.2" x2="517.2" y2="469.4" stroke="#B89868" stroke-width="1.3"/>
<line x1="517.8" y1="475.2" x2="529.7" y2="475.1" stroke="#B89868" stroke-width="1.3"/>
<line x1="517.2" y1="469.4" x2="527.7" y2="463.4" stroke="#B89868" stroke-width="1.3"/>
<line x1="527.7" y1="463.4" x2="527.9" y2="457.5" stroke="#B89868" stroke-width="1.3"/>
<line x1="527.7" y1="463.4" x2="538.2" y2="463.2" stroke="#B89868" stroke-width="1.3"/>
<line x1="527.9" y1="457.5" x2="537.7" y2="451.5" stroke="#B89868" stroke-width="1.3"/>
<line x1="537.7" y1="451.5" x2="546.7" y2="451.4" stroke="#B89868" stroke-width="1.3"/>
<line x1="529.7" y1="475.1" x2="539.5" y2="469.1" stroke="#B89868" stroke-width="1.3"/>
<line x1="539.5" y1="469.1" x2="538.2" y2="463.2" stroke="#B89868" stroke-width="1.3"/>
<line x1="539.5" y1="469.1" x2="550.7" y2="468.9" stroke="#B89868" stroke-width="1.3"/>
<line x1="538.2" y1="463.2" x2="547.3" y2="457.2" stroke="#B89868" stroke-width="1.3"/>
<line x1="547.3" y1="457.2" x2="546.7" y2="451.4" stroke="#B89868" stroke-width="1.3"/>
<line x1="547.3" y1="457.2" x2="557.0" y2="457.1" stroke="#B89868" stroke-width="1.3"/>
<line x1="553.6" y1="474.7" x2="550.7" y2="468.9" stroke="#B89868" stroke-width="1.3"/>
<line x1="553.6" y1="474.7" x2="565.5" y2="474.5" stroke="#B89868" stroke-width="1.3"/>
<line x1="550.7" y1="468.9" x2="559.1" y2="462.9" stroke="#B89868" stroke-width="1.3"/>
<line x1="559.1" y1="462.9" x2="557.0" y2="457.1" stroke="#B89868" stroke-width="1.3"/>
<line x1="559.1" y1="462.9" x2="569.5" y2="462.8" stroke="#B89868" stroke-width="1.3"/>
<line x1="557.0" y1="457.1" x2="564.6" y2="451.1" stroke="#B89868" stroke-width="1.3"/>
<line x1="564.6" y1="451.1" x2="573.5" y2="451.0" stroke="#B89868" stroke-width="1.3"/>
<line x1="565.5" y1="474.5" x2="573.1" y2="468.5" stroke="#B89868" stroke-width="1.3"/>
<line x1="573.1" y1="468.5" x2="569.5" y2="462.8" stroke="#B89868" stroke-width="1.3"/>
<line x1="573.1" y1="468.5" x2="584.3" y2="468.4" stroke="#B89868" stroke-width="1.3"/>
<line x1="569.5" y1="462.8" x2="576.3" y2="456.8" stroke="#B89868" stroke-width="1.3"/>
<line x1="576.3" y1="456.8" x2="573.5" y2="451.0" stroke="#B89868" stroke-width="1.3"/>
<line x1="576.3" y1="456.8" x2="586.0" y2="456.7" stroke="#B89868" stroke-width="1.3"/>
<line x1="589.4" y1="474.1" x2="584.3" y2="468.4" stroke="#B89868" stroke-width="1.3"/>
<line x1="589.4" y1="474.1" x2="601.3" y2="473.9" stroke="#B89868" stroke-width="1.3"/>
<line x1="584.3" y1="468.4" x2="590.4" y2="462.4" stroke="#B89868" stroke-width="1.3"/>
<line x1="590.4" y1="462.4" x2="586.0" y2="456.7" stroke="#B89868" stroke-width="1.3"/>
<line x1="590.4" y1="462.4" x2="600.8" y2="462.3" stroke="#B89868" stroke-width="1.3"/>
<line x1="586.0" y1="456.7" x2="591.4" y2="450.8" stroke="#B89868" stroke-width="1.3"/>
<line x1="591.4" y1="450.8" x2="600.3" y2="450.6" stroke="#B89868" stroke-width="1.3"/>
<line x1="601.3" y1="473.9" x2="606.7" y2="468.0" stroke="#B89868" stroke-width="1.3"/>
<line x1="606.7" y1="468.0" x2="600.8" y2="462.3" stroke="#B89868" stroke-width="1.3"/>
<line x1="606.7" y1="468.0" x2="617.8" y2="467.9" stroke="#B89868" stroke-width="1.3"/>
<line x1="600.8" y1="462.3" x2="605.4" y2="456.4" stroke="#B89868" stroke-width="1.3"/>
<line x1="605.4" y1="456.4" x2="600.3" y2="450.6" stroke="#B89868" stroke-width="1.3"/>
<line x1="605.4" y1="456.4" x2="615.1" y2="456.2" stroke="#B89868" stroke-width="1.3"/>
<line x1="625.2" y1="473.6" x2="617.8" y2="467.9" stroke="#B89868" stroke-width="1.3"/>
<line x1="625.2" y1="473.6" x2="637.1" y2="473.4" stroke="#B89868" stroke-width="1.3"/>
<line x1="617.8" y1="467.9" x2="621.7" y2="462.0" stroke="#B89868" stroke-width="1.3"/>
<line x1="621.7" y1="462.0" x2="615.1" y2="456.2" stroke="#B89868" stroke-width="1.3"/>
<line x1="621.7" y1="462.0" x2="632.1" y2="461.8" stroke="#B89868" stroke-width="1.3"/>
<line x1="615.1" y1="456.2" x2="618.2" y2="450.4" stroke="#B89868" stroke-width="1.3"/>
<line x1="618.2" y1="450.4" x2="627.1" y2="450.3" stroke="#B89868" stroke-width="1.3"/>
<line x1="637.1" y1="473.4" x2="640.2" y2="467.5" stroke="#B89868" stroke-width="1.3"/>
<line x1="640.2" y1="467.5" x2="632.1" y2="461.8" stroke="#B89868" stroke-width="1.3"/>
<line x1="640.2" y1="467.5" x2="651.4" y2="467.3" stroke="#B89868" stroke-width="1.3"/>
<line x1="632.1" y1="461.8" x2="634.5" y2="456.0" stroke="#B89868" stroke-width="1.3"/>
<line x1="634.5" y1="456.0" x2="627.1" y2="450.3" stroke="#B89868" stroke-width="1.3"/>
<line x1="634.5" y1="456.0" x2="644.2" y2="455.8" stroke="#B89868" stroke-width="1.3"/>
<line x1="651.4" y1="467.3" x2="653.0" y2="461.5" stroke="#B89868" stroke-width="1.3"/>
<line x1="653.0" y1="461.5" x2="644.2" y2="455.8" stroke="#B89868" stroke-width="1.3"/>
<line x1="481.9" y1="475.8" x2="471.4" y2="480.6" stroke="#CFC6B4" stroke-width="1.1"/>
<line x1="483.6" y1="469.9" x2="474.9" y2="470.0" stroke="#CFC6B4" stroke-width="1.1"/>
<line x1="498.8" y1="457.9" x2="491.3" y2="458.0" stroke="#CFC6B4" stroke-width="1.1"/>
<line x1="510.9" y1="451.9" x2="513.3" y2="447.3" stroke="#CFC6B4" stroke-width="1.1"/>
<line x1="493.9" y1="475.6" x2="493.7" y2="480.2" stroke="#CFC6B4" stroke-width="1.1"/>
<line x1="519.9" y1="451.8" x2="528.2" y2="447.1" stroke="#CFC6B4" stroke-width="1.1"/>
<line x1="517.8" y1="475.2" x2="509.0" y2="480.0" stroke="#CFC6B4" stroke-width="1.1"/>
<line x1="537.7" y1="451.5" x2="538.4" y2="446.9" stroke="#CFC6B4" stroke-width="1.1"/>
<line x1="529.7" y1="475.1" x2="531.3" y2="479.6" stroke="#CFC6B4" stroke-width="1.1"/>
<line x1="546.7" y1="451.4" x2="553.3" y2="446.7" stroke="#CFC6B4" stroke-width="1.1"/>
<line x1="553.6" y1="474.7" x2="546.5" y2="479.4" stroke="#CFC6B4" stroke-width="1.1"/>
<line x1="564.6" y1="451.1" x2="563.4" y2="446.6" stroke="#CFC6B4" stroke-width="1.1"/>
<line x1="565.5" y1="474.5" x2="568.8" y2="479.0" stroke="#CFC6B4" stroke-width="1.1"/>
<line x1="573.5" y1="451.0" x2="578.3" y2="446.4" stroke="#CFC6B4" stroke-width="1.1"/>
<line x1="589.4" y1="474.1" x2="584.1" y2="478.8" stroke="#CFC6B4" stroke-width="1.1"/>
<line x1="591.4" y1="450.8" x2="588.5" y2="446.2" stroke="#CFC6B4" stroke-width="1.1"/>
<line x1="601.3" y1="473.9" x2="606.4" y2="478.4" stroke="#CFC6B4" stroke-width="1.1"/>
<line x1="600.3" y1="450.6" x2="603.4" y2="446.0" stroke="#CFC6B4" stroke-width="1.1"/>
<line x1="625.2" y1="473.6" x2="621.7" y2="478.2" stroke="#CFC6B4" stroke-width="1.1"/>
<line x1="618.2" y1="450.4" x2="613.6" y2="445.9" stroke="#CFC6B4" stroke-width="1.1"/>
<line x1="637.1" y1="473.4" x2="644.0" y2="477.8" stroke="#CFC6B4" stroke-width="1.1"/>
<line x1="627.1" y1="450.3" x2="628.4" y2="445.7" stroke="#CFC6B4" stroke-width="1.1"/>
<line x1="651.4" y1="467.3" x2="658.8" y2="471.8" stroke="#CFC6B4" stroke-width="1.1"/>
<line x1="653.0" y1="461.5" x2="661.1" y2="461.4" stroke="#CFC6B4" stroke-width="1.1"/>
<line x1="644.2" y1="455.8" x2="644.9" y2="451.3" stroke="#CFC6B4" stroke-width="1.1"/>
<circle cx="613.6" cy="445.9" r="1.98" fill="url(#gH)"/>
<circle cx="628.4" cy="445.7" r="1.98" fill="url(#gH)"/>
<circle cx="538.4" cy="446.9" r="1.98" fill="url(#gH)"/>
<circle cx="553.3" cy="446.7" r="1.98" fill="url(#gH)"/>
<circle cx="588.5" cy="446.2" r="1.98" fill="url(#gH)"/>
<circle cx="513.3" cy="447.3" r="1.98" fill="url(#gH)"/>
<circle cx="528.2" cy="447.1" r="1.98" fill="url(#gH)"/>
<circle cx="563.4" cy="446.6" r="1.98" fill="url(#gH)"/>
<circle cx="578.3" cy="446.4" r="1.98" fill="url(#gH)"/>
<circle cx="603.4" cy="446.0" r="1.98" fill="url(#gH)"/>
<circle cx="510.9" cy="451.9" r="3.40" fill="url(#gC)"/>
<circle cx="519.9" cy="451.8" r="3.40" fill="url(#gC)"/>
<circle cx="537.7" cy="451.5" r="3.40" fill="url(#gC)"/>
<circle cx="546.7" cy="451.4" r="3.40" fill="url(#gC)"/>
<circle cx="564.6" cy="451.1" r="3.40" fill="url(#gC)"/>
<circle cx="573.5" cy="451.0" r="3.40" fill="url(#gC)"/>
<circle cx="591.4" cy="450.8" r="3.40" fill="url(#gC)"/>
<circle cx="600.3" cy="450.6" r="3.40" fill="url(#gC)"/>
<circle cx="618.2" cy="450.4" r="3.40" fill="url(#gC)"/>
<circle cx="627.1" cy="450.3" r="3.40" fill="url(#gC)"/>
<circle cx="644.9" cy="451.3" r="2.13" fill="url(#gH)"/>
<circle cx="491.3" cy="458.0" r="2.25" fill="url(#gH)"/>
<circle cx="498.8" cy="457.9" r="3.60" fill="url(#gC)"/>
<circle cx="518.2" cy="457.6" r="3.60" fill="url(#gC)"/>
<circle cx="527.9" cy="457.5" r="3.60" fill="url(#gC)"/>
<circle cx="547.3" cy="457.2" r="3.60" fill="url(#gC)"/>
<circle cx="557.0" cy="457.1" r="3.60" fill="url(#gC)"/>
<circle cx="576.3" cy="456.8" r="3.60" fill="url(#gC)"/>
<circle cx="586.0" cy="456.7" r="3.60" fill="url(#gC)"/>
<circle cx="605.4" cy="456.4" r="3.60" fill="url(#gC)"/>
<circle cx="615.1" cy="456.2" r="3.60" fill="url(#gC)"/>
<circle cx="634.5" cy="456.0" r="3.60" fill="url(#gC)"/>
<circle cx="644.2" cy="455.8" r="3.60" fill="url(#gC)"/>
<circle cx="496.4" cy="463.8" r="3.80" fill="url(#gC)"/>
<circle cx="506.9" cy="463.7" r="3.80" fill="url(#gC)"/>
<circle cx="527.7" cy="463.4" r="3.80" fill="url(#gC)"/>
<circle cx="538.2" cy="463.2" r="3.80" fill="url(#gC)"/>
<circle cx="559.1" cy="462.9" r="3.80" fill="url(#gC)"/>
<circle cx="569.5" cy="462.8" r="3.80" fill="url(#gC)"/>
<circle cx="590.4" cy="462.4" r="3.80" fill="url(#gC)"/>
<circle cx="600.8" cy="462.3" r="3.80" fill="url(#gC)"/>
<circle cx="621.7" cy="462.0" r="3.80" fill="url(#gC)"/>
<circle cx="632.1" cy="461.8" r="3.80" fill="url(#gC)"/>
<circle cx="653.0" cy="461.5" r="3.80" fill="url(#gC)"/>
<circle cx="661.1" cy="461.4" r="2.40" fill="url(#gH)"/>
<circle cx="483.6" cy="469.9" r="4.00" fill="url(#gC)"/>
<circle cx="506.0" cy="469.6" r="4.00" fill="url(#gC)"/>
<circle cx="517.2" cy="469.4" r="4.00" fill="url(#gC)"/>
<circle cx="539.5" cy="469.1" r="4.00" fill="url(#gC)"/>
<circle cx="550.7" cy="468.9" r="4.00" fill="url(#gC)"/>
<circle cx="573.1" cy="468.5" r="4.00" fill="url(#gC)"/>
<circle cx="584.3" cy="468.4" r="4.00" fill="url(#gC)"/>
<circle cx="606.7" cy="468.0" r="4.00" fill="url(#gC)"/>
<circle cx="617.8" cy="467.9" r="4.00" fill="url(#gC)"/>
<circle cx="640.2" cy="467.5" r="4.00" fill="url(#gC)"/>
<circle cx="651.4" cy="467.3" r="4.00" fill="url(#gC)"/>
<circle cx="474.9" cy="470.0" r="2.55" fill="url(#gH)"/>
<circle cx="658.8" cy="471.8" r="2.67" fill="url(#gH)"/>
<circle cx="481.9" cy="475.8" r="4.20" fill="url(#gC)"/>
<circle cx="493.9" cy="475.6" r="4.20" fill="url(#gC)"/>
<circle cx="517.8" cy="475.2" r="4.20" fill="url(#gC)"/>
<circle cx="529.7" cy="475.1" r="4.20" fill="url(#gC)"/>
<circle cx="553.6" cy="474.7" r="4.20" fill="url(#gC)"/>
<circle cx="565.5" cy="474.5" r="4.20" fill="url(#gC)"/>
<circle cx="589.4" cy="474.1" r="4.20" fill="url(#gC)"/>
<circle cx="601.3" cy="473.9" r="4.20" fill="url(#gC)"/>
<circle cx="625.2" cy="473.6" r="4.20" fill="url(#gC)"/>
<circle cx="637.1" cy="473.4" r="4.20" fill="url(#gC)"/>
<circle cx="546.5" cy="479.4" r="2.82" fill="url(#gH)"/>
<circle cx="568.8" cy="479.0" r="2.82" fill="url(#gH)"/>
<circle cx="606.4" cy="478.4" r="2.82" fill="url(#gH)"/>
<circle cx="471.4" cy="480.6" r="2.82" fill="url(#gH)"/>
<circle cx="493.7" cy="480.2" r="2.82" fill="url(#gH)"/>
<circle cx="531.3" cy="479.6" r="2.82" fill="url(#gH)"/>
<circle cx="509.0" cy="480.0" r="2.82" fill="url(#gH)"/>
<circle cx="584.1" cy="478.8" r="2.82" fill="url(#gH)"/>
<circle cx="621.7" cy="478.2" r="2.82" fill="url(#gH)"/>
<circle cx="644.0" cy="477.8" r="2.82" fill="url(#gH)"/>
<ellipse cx="568.6" cy="448.7" rx="2.5" ry="2.2" fill="url(#gB)" opacity="0.95"/>
<ellipse cx="549.7" cy="459.0" rx="2.5" ry="2.2" fill="url(#gB)" opacity="0.95"/>
<ellipse cx="532.6" cy="469.3" rx="2.0" ry="1.8" fill="url(#gG)" opacity="0.95"/>
<ellipse cx="532.6" cy="477.9" rx="2.0" ry="1.8" fill="url(#gB)" opacity="0.95"/>
<ellipse cx="572.0" cy="464.0" rx="2.0" ry="1.8" fill="url(#gB)" opacity="0.95"/>
<line x1="568.1" y1="386.8" x2="583.9" y2="385.0" stroke="#B0925E" stroke-width="1.6"/>
<line x1="583.9" y1="385.0" x2="585.7" y2="394.7" stroke="#B0925E" stroke-width="1.6"/>
<line x1="585.7" y1="394.7" x2="580.8" y2="398.4" stroke="#9A8A70" stroke-width="1.6"/>
<line x1="580.8" y1="398.4" x2="576.0" y2="402.0" stroke="#1530E0" stroke-width="1.6"/>
<line x1="576.0" y1="402.0" x2="571.1" y2="400.5" stroke="#1530E0" stroke-width="1.6"/>
<line x1="571.1" y1="400.5" x2="566.3" y2="399.0" stroke="#B0925E" stroke-width="1.6"/>
<line x1="566.3" y1="399.0" x2="568.1" y2="386.8" stroke="#B0925E" stroke-width="1.6"/>
<line x1="583.9" y1="385.0" x2="589.3" y2="378.3" stroke="#D0C8B8" stroke-width="1.2"/>
<line x1="585.7" y1="394.7" x2="594.2" y2="395.3" stroke="#D0C8B8" stroke-width="1.2"/>
<line x1="566.3" y1="399.0" x2="560.8" y2="401.7" stroke="#B0925E" stroke-width="1.6"/>
<line x1="560.8" y1="401.7" x2="555.3" y2="404.4" stroke="#1530E0" stroke-width="1.6"/>
<line x1="555.3" y1="404.4" x2="549.9" y2="402.0" stroke="#C0C0E0" stroke-width="1.2"/>
<line x1="555.3" y1="404.4" x2="554.7" y2="411.7" stroke="#1530E0" stroke-width="1.6"/>
<line x1="554.7" y1="411.7" x2="554.1" y2="419.0" stroke="#E0D020" stroke-width="1.6"/>
<line x1="554.1" y1="419.0" x2="549.2" y2="420.2" stroke="#E0D020" stroke-width="1.6"/>
<line x1="549.2" y1="420.2" x2="544.4" y2="421.4" stroke="#E02020" stroke-width="1.6"/>
<line x1="554.1" y1="419.0" x2="552.9" y2="422.8" stroke="#E0D020" stroke-width="1.6"/>
<line x1="540.2" y1="424.5" x2="552.9" y2="422.8" stroke="#B0925E" stroke-width="1.6"/>
<line x1="552.9" y1="422.8" x2="565.1" y2="424.5" stroke="#B0925E" stroke-width="1.6"/>
<line x1="540.2" y1="424.5" x2="550.5" y2="429.9" stroke="#B0925E" stroke-width="1.6"/>
<line x1="565.1" y1="424.5" x2="550.5" y2="429.9" stroke="#B0925E" stroke-width="1.6"/>
<line x1="540.2" y1="424.5" x2="532.9" y2="422.6" stroke="#D0C8B8" stroke-width="1.2"/>
<line x1="540.2" y1="424.5" x2="528.6" y2="426.2" stroke="#D0C8B8" stroke-width="1.2"/>
<line x1="565.1" y1="424.5" x2="573.6" y2="423.2" stroke="#D0C8B8" stroke-width="1.2"/>
<line x1="565.1" y1="424.5" x2="574.8" y2="427.5" stroke="#D0C8B8" stroke-width="1.2"/>
<line x1="550.5" y1="429.9" x2="539.6" y2="433.0" stroke="#C0C0E0" stroke-width="1.2"/>
<line x1="550.5" y1="429.9" x2="558.4" y2="436.0" stroke="#C0C0E0" stroke-width="1.2"/>
<circle cx="568.1" cy="386.8" r="3.00" fill="url(#gS)"/>
<circle cx="583.9" cy="385.0" r="3.00" fill="url(#gC)"/>
<circle cx="585.7" cy="394.7" r="3.00" fill="url(#gC)"/>
<circle cx="576.0" cy="402.0" r="2.90" fill="url(#gN)"/>
<circle cx="566.3" cy="399.0" r="3.00" fill="url(#gC)"/>
<circle cx="589.3" cy="378.3" r="2.00" fill="url(#gH)"/>
<circle cx="594.2" cy="395.3" r="2.00" fill="url(#gH)"/>
<circle cx="555.3" cy="404.4" r="2.80" fill="url(#gN)"/>
<circle cx="549.9" cy="402.0" r="1.90" fill="url(#gH)"/>
<circle cx="554.1" cy="419.0" r="3.00" fill="url(#gS)"/>
<circle cx="544.4" cy="421.4" r="2.30" fill="url(#gO)"/>
<circle cx="540.2" cy="424.5" r="3.50" fill="url(#gC)"/>
<circle cx="565.1" cy="424.5" r="3.50" fill="url(#gC)"/>
<circle cx="552.9" cy="422.8" r="3.20" fill="url(#gC)"/>
<circle cx="550.5" cy="429.9" r="3.40" fill="url(#gN)"/>
<circle cx="532.9" cy="422.6" r="2.00" fill="url(#gH)"/>
<circle cx="528.6" cy="426.2" r="2.00" fill="url(#gH)"/>
<circle cx="573.6" cy="423.2" r="2.00" fill="url(#gH)"/>
<circle cx="574.8" cy="427.5" r="2.00" fill="url(#gH)"/>
<circle cx="539.6" cy="433.0" r="2.00" fill="url(#gH)"/>
<circle cx="558.4" cy="436.0" r="2.00" fill="url(#gH)"/>
<ellipse cx="541.7" cy="418.4" rx="6.0" ry="5.0" fill="url(#gG)" opacity="0.95" transform="rotate(-20 541.7 418.4)"/>
<ellipse cx="567.0" cy="418.4" rx="6.0" ry="5.0" fill="url(#gG)" opacity="0.95" transform="rotate(20 567.0 418.4)"/>
<ellipse cx="552.8" cy="436.0" rx="7.0" ry="4.0" fill="url(#gG)" opacity="0.95"/>
<ellipse cx="541.2" cy="429.0" rx="6.0" ry="4.5" fill="url(#gB)" opacity="0.95" transform="rotate(10 541.2 429.0)"/>
<ellipse cx="565.8" cy="430.1" rx="6.0" ry="4.5" fill="url(#gB)" opacity="0.95" transform="rotate(-10 565.8 430.1)"/>
<ellipse cx="555.2" cy="420.8" rx="8.8" ry="8.5" fill="url(#gB)" opacity="0.95"/>
<ellipse cx="554.0" cy="403.7" rx="3.2" ry="3.0" fill="url(#gG)" opacity="0.95"/>
<circle cx="531.8" cy="423.0" r="1.90" fill="url(#gH)"/>
<circle cx="576.3" cy="425.4" r="1.90" fill="url(#gH)"/>
<circle cx="544.6" cy="432.5" r="1.90" fill="url(#gH)"/>
<circle cx="563.4" cy="436.0" r="1.90" fill="url(#gH)"/>
<line x1="342.4" y1="251.5" x2="343.8" y2="240.8" stroke="#E02020" stroke-width="1.6"/>
<line x1="342.4" y1="251.5" x2="342.0" y2="266.8" stroke="#E0D020" stroke-width="1.6"/>
<line x1="342.4" y1="251.5" x2="370.0" y2="252.0" stroke="#E02020" stroke-width="1.0"/>
<ellipse cx="330.4" cy="247.8" rx="3.2" ry="3.0" fill="url(#gG)" opacity="0.95"/>
<circle cx="333.6" cy="248.2" r="2.00" fill="url(#gO)"/>
<ellipse cx="336.9" cy="248.2" rx="2.6" ry="3.6" fill="url(#gB)" opacity="0.95"/>
<ellipse cx="347.0" cy="250.6" rx="3.2" ry="7.0" fill="url(#gG)" opacity="0.95"/>
<ellipse cx="350.8" cy="248.2" rx="4.0" ry="5.0" fill="url(#gG)" opacity="0.95"/>
<ellipse cx="356.8" cy="250.1" rx="4.6" ry="7.5" fill="url(#gB)" opacity="0.95"/>
<ellipse cx="364.7" cy="251.0" rx="4.0" ry="7.0" fill="url(#gG)" opacity="0.95"/>
<circle cx="369.4" cy="243.1" r="1.80" fill="url(#gH)"/>
<ellipse cx="375.9" cy="249.6" rx="5.6" ry="10.5" fill="url(#gB)" opacity="0.95" transform="rotate(-8 375.9 249.6)"/>
<circle cx="342.4" cy="251.5" r="3.50" fill="url(#gS)"/>
<circle cx="343.8" cy="240.8" r="3.00" fill="url(#gO)"/>
<circle cx="342.0" cy="266.8" r="3.00" fill="url(#gO)"/>
<circle cx="368.4" cy="252.0" r="2.00" fill="url(#gO)"/>
<line x1="277.5" y1="345.5" x2="277.8" y2="340.9" stroke="#9A7A4E" stroke-width="1.0"/>
<line x1="277.5" y1="345.5" x2="281.3" y2="348.1" stroke="#9A7A4E" stroke-width="1.0"/>
<line x1="277.8" y1="340.9" x2="282.0" y2="338.9" stroke="#9A7A4E" stroke-width="1.0"/>
<line x1="287.4" y1="318.5" x2="283.3" y2="320.5" stroke="#9A7A4E" stroke-width="1.0"/>
<line x1="287.4" y1="318.5" x2="291.2" y2="321.1" stroke="#9A7A4E" stroke-width="1.0"/>
<line x1="283.3" y1="320.5" x2="282.9" y2="325.1" stroke="#9A7A4E" stroke-width="1.0"/>
<line x1="282.9" y1="325.1" x2="286.7" y2="327.7" stroke="#9A7A4E" stroke-width="1.0"/>
<line x1="286.4" y1="332.3" x2="282.3" y2="334.3" stroke="#9A7A4E" stroke-width="1.0"/>
<line x1="286.4" y1="332.3" x2="286.7" y2="327.7" stroke="#9A7A4E" stroke-width="1.0"/>
<line x1="286.4" y1="332.3" x2="290.2" y2="334.9" stroke="#9A7A4E" stroke-width="1.0"/>
<line x1="282.3" y1="334.3" x2="282.0" y2="338.9" stroke="#9A7A4E" stroke-width="1.0"/>
<line x1="286.7" y1="327.7" x2="290.9" y2="325.7" stroke="#9A7A4E" stroke-width="1.0"/>
<line x1="282.0" y1="338.9" x2="285.8" y2="341.5" stroke="#9A7A4E" stroke-width="1.0"/>
<line x1="285.5" y1="346.1" x2="281.3" y2="348.1" stroke="#9A7A4E" stroke-width="1.0"/>
<line x1="285.5" y1="346.1" x2="285.8" y2="341.5" stroke="#9A7A4E" stroke-width="1.0"/>
<line x1="285.5" y1="346.1" x2="289.3" y2="348.6" stroke="#9A7A4E" stroke-width="1.0"/>
<line x1="281.3" y1="348.1" x2="281.0" y2="352.7" stroke="#9A7A4E" stroke-width="1.0"/>
<line x1="285.8" y1="341.5" x2="289.9" y2="339.5" stroke="#9A7A4E" stroke-width="1.0"/>
<line x1="281.0" y1="352.7" x2="284.8" y2="355.2" stroke="#9A7A4E" stroke-width="1.0"/>
<line x1="284.8" y1="355.2" x2="289.0" y2="353.2" stroke="#9A7A4E" stroke-width="1.0"/>
<line x1="295.3" y1="319.1" x2="291.2" y2="321.1" stroke="#9A7A4E" stroke-width="1.0"/>
<line x1="295.3" y1="319.1" x2="299.1" y2="321.7" stroke="#9A7A4E" stroke-width="1.0"/>
<line x1="291.2" y1="321.1" x2="290.9" y2="325.7" stroke="#9A7A4E" stroke-width="1.0"/>
<line x1="290.9" y1="325.7" x2="294.7" y2="328.3" stroke="#9A7A4E" stroke-width="1.0"/>
<line x1="294.4" y1="332.9" x2="290.2" y2="334.9" stroke="#9A7A4E" stroke-width="1.0"/>
<line x1="294.4" y1="332.9" x2="294.7" y2="328.3" stroke="#9A7A4E" stroke-width="1.0"/>
<line x1="294.4" y1="332.9" x2="298.2" y2="335.4" stroke="#9A7A4E" stroke-width="1.0"/>
<line x1="290.2" y1="334.9" x2="289.9" y2="339.5" stroke="#9A7A4E" stroke-width="1.0"/>
<line x1="294.7" y1="328.3" x2="298.8" y2="326.3" stroke="#9A7A4E" stroke-width="1.0"/>
<line x1="289.9" y1="339.5" x2="293.7" y2="342.0" stroke="#9A7A4E" stroke-width="1.0"/>
<line x1="293.4" y1="346.6" x2="289.3" y2="348.6" stroke="#9A7A4E" stroke-width="1.0"/>
<line x1="293.4" y1="346.6" x2="293.7" y2="342.0" stroke="#9A7A4E" stroke-width="1.0"/>
<line x1="293.4" y1="346.6" x2="297.2" y2="349.2" stroke="#9A7A4E" stroke-width="1.0"/>
<line x1="289.3" y1="348.6" x2="289.0" y2="353.2" stroke="#9A7A4E" stroke-width="1.0"/>
<line x1="293.7" y1="342.0" x2="297.9" y2="340.0" stroke="#9A7A4E" stroke-width="1.0"/>
<line x1="289.0" y1="353.2" x2="292.8" y2="355.8" stroke="#9A7A4E" stroke-width="1.0"/>
<line x1="292.8" y1="355.8" x2="296.9" y2="353.8" stroke="#9A7A4E" stroke-width="1.0"/>
<line x1="303.3" y1="319.6" x2="299.1" y2="321.7" stroke="#9A7A4E" stroke-width="1.0"/>
<line x1="303.3" y1="319.6" x2="307.1" y2="322.2" stroke="#9A7A4E" stroke-width="1.0"/>
<line x1="299.1" y1="321.7" x2="298.8" y2="326.3" stroke="#9A7A4E" stroke-width="1.0"/>
<line x1="298.8" y1="326.3" x2="302.6" y2="328.8" stroke="#9A7A4E" stroke-width="1.0"/>
<line x1="302.3" y1="333.4" x2="298.2" y2="335.4" stroke="#9A7A4E" stroke-width="1.0"/>
<line x1="302.3" y1="333.4" x2="302.6" y2="328.8" stroke="#9A7A4E" stroke-width="1.0"/>
<line x1="302.3" y1="333.4" x2="306.1" y2="336.0" stroke="#9A7A4E" stroke-width="1.0"/>
<line x1="298.2" y1="335.4" x2="297.9" y2="340.0" stroke="#9A7A4E" stroke-width="1.0"/>
<line x1="302.6" y1="328.8" x2="306.8" y2="326.8" stroke="#9A7A4E" stroke-width="1.0"/>
<line x1="297.9" y1="340.0" x2="301.7" y2="342.6" stroke="#9A7A4E" stroke-width="1.0"/>
<line x1="301.4" y1="347.2" x2="297.2" y2="349.2" stroke="#9A7A4E" stroke-width="1.0"/>
<line x1="301.4" y1="347.2" x2="301.7" y2="342.6" stroke="#9A7A4E" stroke-width="1.0"/>
<line x1="301.4" y1="347.2" x2="305.2" y2="349.7" stroke="#9A7A4E" stroke-width="1.0"/>
<line x1="297.2" y1="349.2" x2="296.9" y2="353.8" stroke="#9A7A4E" stroke-width="1.0"/>
<line x1="301.7" y1="342.6" x2="305.8" y2="340.6" stroke="#9A7A4E" stroke-width="1.0"/>
<line x1="296.9" y1="353.8" x2="300.7" y2="356.4" stroke="#9A7A4E" stroke-width="1.0"/>
<line x1="300.7" y1="356.4" x2="304.9" y2="354.3" stroke="#9A7A4E" stroke-width="1.0"/>
<line x1="311.2" y1="320.2" x2="307.1" y2="322.2" stroke="#9A7A4E" stroke-width="1.0"/>
<line x1="311.2" y1="320.2" x2="315.0" y2="322.8" stroke="#9A7A4E" stroke-width="1.0"/>
<line x1="307.1" y1="322.2" x2="306.8" y2="326.8" stroke="#9A7A4E" stroke-width="1.0"/>
<line x1="306.8" y1="326.8" x2="310.6" y2="329.4" stroke="#9A7A4E" stroke-width="1.0"/>
<line x1="310.3" y1="334.0" x2="306.1" y2="336.0" stroke="#9A7A4E" stroke-width="1.0"/>
<line x1="310.3" y1="334.0" x2="310.6" y2="329.4" stroke="#9A7A4E" stroke-width="1.0"/>
<line x1="310.3" y1="334.0" x2="314.1" y2="336.5" stroke="#9A7A4E" stroke-width="1.0"/>
<line x1="306.1" y1="336.0" x2="305.8" y2="340.6" stroke="#9A7A4E" stroke-width="1.0"/>
<line x1="310.6" y1="329.4" x2="314.7" y2="327.4" stroke="#9A7A4E" stroke-width="1.0"/>
<line x1="305.8" y1="340.6" x2="309.6" y2="343.1" stroke="#9A7A4E" stroke-width="1.0"/>
<line x1="309.3" y1="347.7" x2="305.2" y2="349.7" stroke="#9A7A4E" stroke-width="1.0"/>
<line x1="309.3" y1="347.7" x2="309.6" y2="343.1" stroke="#9A7A4E" stroke-width="1.0"/>
<line x1="309.3" y1="347.7" x2="313.1" y2="350.3" stroke="#9A7A4E" stroke-width="1.0"/>
<line x1="305.2" y1="349.7" x2="304.9" y2="354.3" stroke="#9A7A4E" stroke-width="1.0"/>
<line x1="309.6" y1="343.1" x2="313.8" y2="341.1" stroke="#9A7A4E" stroke-width="1.0"/>
<line x1="304.9" y1="354.3" x2="308.7" y2="356.9" stroke="#9A7A4E" stroke-width="1.0"/>
<line x1="308.7" y1="356.9" x2="312.8" y2="354.9" stroke="#9A7A4E" stroke-width="1.0"/>
<line x1="319.2" y1="320.8" x2="315.0" y2="322.8" stroke="#9A7A4E" stroke-width="1.0"/>
<line x1="319.2" y1="320.8" x2="323.0" y2="323.3" stroke="#9A7A4E" stroke-width="1.0"/>
<line x1="315.0" y1="322.8" x2="314.7" y2="327.4" stroke="#9A7A4E" stroke-width="1.0"/>
<line x1="314.7" y1="327.4" x2="318.5" y2="329.9" stroke="#9A7A4E" stroke-width="1.0"/>
<line x1="318.2" y1="334.5" x2="314.1" y2="336.5" stroke="#9A7A4E" stroke-width="1.0"/>
<line x1="318.2" y1="334.5" x2="318.5" y2="329.9" stroke="#9A7A4E" stroke-width="1.0"/>
<line x1="318.2" y1="334.5" x2="322.0" y2="337.1" stroke="#9A7A4E" stroke-width="1.0"/>
<line x1="314.1" y1="336.5" x2="313.8" y2="341.1" stroke="#9A7A4E" stroke-width="1.0"/>
<line x1="318.5" y1="329.9" x2="322.7" y2="327.9" stroke="#9A7A4E" stroke-width="1.0"/>
<line x1="313.8" y1="341.1" x2="317.6" y2="343.7" stroke="#9A7A4E" stroke-width="1.0"/>
<line x1="317.3" y1="348.3" x2="313.1" y2="350.3" stroke="#9A7A4E" stroke-width="1.0"/>
<line x1="317.3" y1="348.3" x2="317.6" y2="343.7" stroke="#9A7A4E" stroke-width="1.0"/>
<line x1="317.3" y1="348.3" x2="321.1" y2="350.9" stroke="#9A7A4E" stroke-width="1.0"/>
<line x1="313.1" y1="350.3" x2="312.8" y2="354.9" stroke="#9A7A4E" stroke-width="1.0"/>
<line x1="317.6" y1="343.7" x2="321.7" y2="341.7" stroke="#9A7A4E" stroke-width="1.0"/>
<line x1="312.8" y1="354.9" x2="316.6" y2="357.5" stroke="#9A7A4E" stroke-width="1.0"/>
<line x1="316.6" y1="357.5" x2="320.7" y2="355.5" stroke="#9A7A4E" stroke-width="1.0"/>
<line x1="323.0" y1="323.3" x2="322.7" y2="327.9" stroke="#9A7A4E" stroke-width="1.0"/>
<line x1="322.7" y1="327.9" x2="326.5" y2="330.5" stroke="#9A7A4E" stroke-width="1.0"/>
<line x1="326.2" y1="335.1" x2="322.0" y2="337.1" stroke="#9A7A4E" stroke-width="1.0"/>
<line x1="326.2" y1="335.1" x2="326.5" y2="330.5" stroke="#9A7A4E" stroke-width="1.0"/>
<line x1="322.0" y1="337.1" x2="321.7" y2="341.7" stroke="#9A7A4E" stroke-width="1.0"/>
<line x1="321.7" y1="341.7" x2="325.5" y2="344.3" stroke="#9A7A4E" stroke-width="1.0"/>
<line x1="325.2" y1="348.8" x2="321.1" y2="350.9" stroke="#9A7A4E" stroke-width="1.0"/>
<line x1="325.2" y1="348.8" x2="325.5" y2="344.3" stroke="#9A7A4E" stroke-width="1.0"/>
<line x1="321.1" y1="350.9" x2="320.7" y2="355.5" stroke="#9A7A4E" stroke-width="1.0"/>
<line x1="277.5" y1="345.5" x2="274.2" y2="347.1" stroke="#D8D0C0" stroke-width="0.8"/>
<line x1="277.8" y1="340.9" x2="274.8" y2="338.9" stroke="#D8D0C0" stroke-width="0.8"/>
<line x1="287.4" y1="318.5" x2="287.6" y2="314.9" stroke="#D8D0C0" stroke-width="0.8"/>
<line x1="283.3" y1="320.5" x2="280.2" y2="318.5" stroke="#D8D0C0" stroke-width="0.8"/>
<line x1="282.9" y1="325.1" x2="279.6" y2="326.8" stroke="#D8D0C0" stroke-width="0.8"/>
<line x1="282.3" y1="334.3" x2="279.2" y2="332.3" stroke="#D8D0C0" stroke-width="0.8"/>
<line x1="281.0" y1="352.7" x2="277.7" y2="354.3" stroke="#D8D0C0" stroke-width="0.8"/>
<line x1="284.8" y1="355.2" x2="284.6" y2="358.9" stroke="#D8D0C0" stroke-width="0.8"/>
<line x1="295.3" y1="319.1" x2="295.6" y2="315.4" stroke="#D8D0C0" stroke-width="0.8"/>
<line x1="292.8" y1="355.8" x2="292.5" y2="359.5" stroke="#D8D0C0" stroke-width="0.8"/>
<line x1="303.3" y1="319.6" x2="303.5" y2="316.0" stroke="#D8D0C0" stroke-width="0.8"/>
<line x1="300.7" y1="356.4" x2="300.5" y2="360.0" stroke="#D8D0C0" stroke-width="0.8"/>
<line x1="311.2" y1="320.2" x2="311.5" y2="316.5" stroke="#D8D0C0" stroke-width="0.8"/>
<line x1="308.7" y1="356.9" x2="308.4" y2="360.6" stroke="#D8D0C0" stroke-width="0.8"/>
<line x1="319.2" y1="320.8" x2="319.4" y2="317.1" stroke="#D8D0C0" stroke-width="0.8"/>
<line x1="316.6" y1="357.5" x2="316.4" y2="361.1" stroke="#D8D0C0" stroke-width="0.8"/>
<line x1="323.0" y1="323.3" x2="326.3" y2="321.7" stroke="#D8D0C0" stroke-width="0.8"/>
<line x1="326.2" y1="335.1" x2="329.2" y2="337.1" stroke="#D8D0C0" stroke-width="0.8"/>
<line x1="326.5" y1="330.5" x2="329.8" y2="328.9" stroke="#D8D0C0" stroke-width="0.8"/>
<line x1="325.2" y1="348.8" x2="328.3" y2="350.9" stroke="#D8D0C0" stroke-width="0.8"/>
<line x1="325.5" y1="344.3" x2="328.8" y2="342.6" stroke="#D8D0C0" stroke-width="0.8"/>
<line x1="320.7" y1="355.5" x2="323.8" y2="357.5" stroke="#D8D0C0" stroke-width="0.8"/>
<circle cx="277.5" cy="345.5" r="1.35" fill="url(#gC)"/>
<circle cx="277.8" cy="340.9" r="1.35" fill="url(#gC)"/>
<circle cx="287.4" cy="318.5" r="1.35" fill="url(#gC)"/>
<circle cx="283.3" cy="320.5" r="1.35" fill="url(#gC)"/>
<circle cx="282.9" cy="325.1" r="1.35" fill="url(#gC)"/>
<circle cx="286.4" cy="332.3" r="1.35" fill="url(#gC)"/>
<circle cx="282.3" cy="334.3" r="1.35" fill="url(#gC)"/>
<circle cx="286.7" cy="327.7" r="1.35" fill="url(#gC)"/>
<circle cx="282.0" cy="338.9" r="1.35" fill="url(#gC)"/>
<circle cx="285.5" cy="346.1" r="1.35" fill="url(#gC)"/>
<circle cx="281.3" cy="348.1" r="1.35" fill="url(#gC)"/>
<circle cx="285.8" cy="341.5" r="1.35" fill="url(#gC)"/>
<circle cx="281.0" cy="352.7" r="1.35" fill="url(#gC)"/>
<circle cx="284.8" cy="355.2" r="1.35" fill="url(#gC)"/>
<circle cx="295.3" cy="319.1" r="1.35" fill="url(#gC)"/>
<circle cx="291.2" cy="321.1" r="1.35" fill="url(#gC)"/>
<circle cx="290.9" cy="325.7" r="1.35" fill="url(#gC)"/>
<circle cx="294.4" cy="332.9" r="1.35" fill="url(#gC)"/>
<circle cx="290.2" cy="334.9" r="1.35" fill="url(#gC)"/>
<circle cx="294.7" cy="328.3" r="1.35" fill="url(#gC)"/>
<circle cx="289.9" cy="339.5" r="1.35" fill="url(#gC)"/>
<circle cx="293.4" cy="346.6" r="1.35" fill="url(#gC)"/>
<circle cx="289.3" cy="348.6" r="1.35" fill="url(#gC)"/>
<circle cx="293.7" cy="342.0" r="1.35" fill="url(#gC)"/>
<circle cx="289.0" cy="353.2" r="1.35" fill="url(#gC)"/>
<circle cx="292.8" cy="355.8" r="1.35" fill="url(#gC)"/>
<circle cx="303.3" cy="319.6" r="1.35" fill="url(#gC)"/>
<circle cx="299.1" cy="321.7" r="1.35" fill="url(#gC)"/>
<circle cx="298.8" cy="326.3" r="1.35" fill="url(#gC)"/>
<circle cx="302.3" cy="333.4" r="1.35" fill="url(#gC)"/>
<circle cx="298.2" cy="335.4" r="1.35" fill="url(#gC)"/>
<circle cx="302.6" cy="328.8" r="1.35" fill="url(#gC)"/>
<circle cx="297.9" cy="340.0" r="1.35" fill="url(#gC)"/>
<circle cx="301.4" cy="347.2" r="1.35" fill="url(#gC)"/>
<circle cx="297.2" cy="349.2" r="1.35" fill="url(#gC)"/>
<circle cx="301.7" cy="342.6" r="1.35" fill="url(#gC)"/>
<circle cx="296.9" cy="353.8" r="1.35" fill="url(#gC)"/>
<circle cx="300.7" cy="356.4" r="1.35" fill="url(#gC)"/>
<circle cx="311.2" cy="320.2" r="1.35" fill="url(#gC)"/>
<circle cx="307.1" cy="322.2" r="1.35" fill="url(#gC)"/>
<circle cx="306.8" cy="326.8" r="1.35" fill="url(#gC)"/>
<circle cx="310.3" cy="334.0" r="1.35" fill="url(#gC)"/>
<circle cx="306.1" cy="336.0" r="1.35" fill="url(#gC)"/>
<circle cx="310.6" cy="329.4" r="1.35" fill="url(#gC)"/>
<circle cx="305.8" cy="340.6" r="1.35" fill="url(#gC)"/>
<circle cx="309.3" cy="347.7" r="1.35" fill="url(#gC)"/>
<circle cx="305.2" cy="349.7" r="1.35" fill="url(#gC)"/>
<circle cx="309.6" cy="343.1" r="1.35" fill="url(#gC)"/>
<circle cx="304.9" cy="354.3" r="1.35" fill="url(#gC)"/>
<circle cx="308.7" cy="356.9" r="1.35" fill="url(#gC)"/>
<circle cx="319.2" cy="320.8" r="1.35" fill="url(#gC)"/>
<circle cx="315.0" cy="322.8" r="1.35" fill="url(#gC)"/>
<circle cx="314.7" cy="327.4" r="1.35" fill="url(#gC)"/>
<circle cx="318.2" cy="334.5" r="1.35" fill="url(#gC)"/>
<circle cx="314.1" cy="336.5" r="1.35" fill="url(#gC)"/>
<circle cx="318.5" cy="329.9" r="1.35" fill="url(#gC)"/>
<circle cx="313.8" cy="341.1" r="1.35" fill="url(#gC)"/>
<circle cx="317.3" cy="348.3" r="1.35" fill="url(#gC)"/>
<circle cx="313.1" cy="350.3" r="1.35" fill="url(#gC)"/>
<circle cx="317.6" cy="343.7" r="1.35" fill="url(#gC)"/>
<circle cx="312.8" cy="354.9" r="1.35" fill="url(#gC)"/>
<circle cx="316.6" cy="357.5" r="1.35" fill="url(#gC)"/>
<circle cx="323.0" cy="323.3" r="1.35" fill="url(#gC)"/>
<circle cx="322.7" cy="327.9" r="1.35" fill="url(#gC)"/>
<circle cx="326.2" cy="335.1" r="1.35" fill="url(#gC)"/>
<circle cx="322.0" cy="337.1" r="1.35" fill="url(#gC)"/>
<circle cx="326.5" cy="330.5" r="1.35" fill="url(#gC)"/>
<circle cx="321.7" cy="341.7" r="1.35" fill="url(#gC)"/>
<circle cx="325.2" cy="348.8" r="1.35" fill="url(#gC)"/>
<circle cx="321.1" cy="350.9" r="1.35" fill="url(#gC)"/>
<circle cx="325.5" cy="344.3" r="1.35" fill="url(#gC)"/>
<circle cx="320.7" cy="355.5" r="1.35" fill="url(#gC)"/>
<circle cx="274.2" cy="347.1" r="1.10" fill="url(#gH)"/>
<circle cx="274.8" cy="338.9" r="1.10" fill="url(#gH)"/>
<circle cx="287.6" cy="314.9" r="1.10" fill="url(#gH)"/>
<circle cx="280.2" cy="318.5" r="1.10" fill="url(#gH)"/>
<circle cx="279.6" cy="326.8" r="1.10" fill="url(#gH)"/>
<circle cx="279.2" cy="332.3" r="1.10" fill="url(#gH)"/>
<circle cx="277.7" cy="354.3" r="1.10" fill="url(#gH)"/>
<circle cx="284.6" cy="358.9" r="1.10" fill="url(#gH)"/>
<circle cx="295.6" cy="315.4" r="1.10" fill="url(#gH)"/>
<circle cx="292.5" cy="359.5" r="1.10" fill="url(#gH)"/>
<circle cx="303.5" cy="316.0" r="1.10" fill="url(#gH)"/>
<circle cx="300.5" cy="360.0" r="1.10" fill="url(#gH)"/>
<circle cx="311.5" cy="316.5" r="1.10" fill="url(#gH)"/>
<circle cx="308.4" cy="360.6" r="1.10" fill="url(#gH)"/>
<circle cx="319.4" cy="317.1" r="1.10" fill="url(#gH)"/>
<circle cx="316.4" cy="361.1" r="1.10" fill="url(#gH)"/>
<circle cx="326.3" cy="321.7" r="1.10" fill="url(#gH)"/>
<circle cx="329.2" cy="337.1" r="1.10" fill="url(#gH)"/>
<circle cx="329.8" cy="328.9" r="1.10" fill="url(#gH)"/>
<circle cx="328.3" cy="350.9" r="1.10" fill="url(#gH)"/>
<circle cx="328.8" cy="342.6" r="1.10" fill="url(#gH)"/>
<circle cx="323.8" cy="357.5" r="1.10" fill="url(#gH)"/>
<ellipse cx="288.1" cy="319.6" rx="1.5" ry="1.5" fill="url(#gB)" opacity="0.95"/>
<ellipse cx="277.6" cy="331.6" rx="2.5" ry="2.3" fill="url(#gB)" opacity="0.95"/>
<ellipse cx="286.1" cy="328.6" rx="1.8" ry="1.7" fill="url(#gG)" opacity="0.95"/>
<ellipse cx="297.2" cy="330.1" rx="1.3" ry="1.3" fill="url(#gG)" opacity="0.95"/>
<ellipse cx="301.2" cy="329.1" rx="2.5" ry="2.3" fill="url(#gG)" opacity="0.95"/>
<ellipse cx="302.2" cy="332.6" rx="2.5" ry="2.3" fill="url(#gB)" opacity="0.95"/>
<ellipse cx="303.7" cy="322.6" rx="1.3" ry="1.3" fill="url(#gB)" opacity="0.95"/>
<ellipse cx="322.8" cy="321.1" rx="2.0" ry="2.0" fill="url(#gG)" opacity="0.95"/>
<ellipse cx="329.4" cy="326.6" rx="2.0" ry="2.0" fill="url(#gB)" opacity="0.95"/>
<ellipse cx="327.9" cy="335.7" rx="2.5" ry="2.3" fill="url(#gG)" opacity="0.95"/>
<ellipse cx="326.4" cy="335.7" rx="1.8" ry="1.8" fill="url(#gB)" opacity="0.95"/>
<ellipse cx="326.4" cy="344.7" rx="2.0" ry="2.0" fill="url(#gB)" opacity="0.95"/>
<ellipse cx="276.6" cy="340.2" rx="3.0" ry="2.6" fill="url(#gG)" opacity="0.95"/>
<ellipse cx="278.0" cy="340.7" rx="2.0" ry="2.0" fill="url(#gB)" opacity="0.95"/>
<ellipse cx="292.1" cy="343.2" rx="1.8" ry="1.7" fill="url(#gG)" opacity="0.95"/>
<ellipse cx="274.5" cy="348.7" rx="2.5" ry="2.3" fill="url(#gB)" opacity="0.95"/>
<ellipse cx="281.6" cy="354.8" rx="2.5" ry="2.3" fill="url(#gG)" opacity="0.95"/>
<ellipse cx="289.6" cy="352.3" rx="1.3" ry="1.3" fill="url(#gB)" opacity="0.95"/>
<ellipse cx="312.3" cy="333.7" rx="1.3" ry="1.3" fill="url(#gG)" opacity="0.95"/>
<ellipse cx="317.8" cy="348.2" rx="1.3" ry="1.3" fill="url(#gG)" opacity="0.95"/>
<ellipse cx="316.3" cy="357.3" rx="1.3" ry="1.3" fill="url(#gB)" opacity="0.95"/>
<line x1="288.0" y1="540.5" x2="288.6" y2="536.1" stroke="#9A7A4E" stroke-width="1.0"/>
<line x1="288.0" y1="540.5" x2="291.4" y2="543.2" stroke="#9A7A4E" stroke-width="1.0"/>
<line x1="288.6" y1="536.1" x2="292.7" y2="534.5" stroke="#9A7A4E" stroke-width="1.0"/>
<line x1="286.1" y1="553.5" x2="286.7" y2="549.2" stroke="#9A7A4E" stroke-width="1.0"/>
<line x1="286.1" y1="553.5" x2="289.6" y2="556.2" stroke="#9A7A4E" stroke-width="1.0"/>
<line x1="286.7" y1="549.2" x2="290.8" y2="547.5" stroke="#9A7A4E" stroke-width="1.0"/>
<line x1="297.4" y1="528.5" x2="293.3" y2="530.1" stroke="#9A7A4E" stroke-width="1.0"/>
<line x1="297.4" y1="528.5" x2="300.8" y2="531.2" stroke="#9A7A4E" stroke-width="1.0"/>
<line x1="293.3" y1="530.1" x2="292.7" y2="534.5" stroke="#9A7A4E" stroke-width="1.0"/>
<line x1="292.7" y1="534.5" x2="296.1" y2="537.2" stroke="#9A7A4E" stroke-width="1.0"/>
<line x1="295.5" y1="541.5" x2="291.4" y2="543.2" stroke="#9A7A4E" stroke-width="1.0"/>
<line x1="295.5" y1="541.5" x2="296.1" y2="537.2" stroke="#9A7A4E" stroke-width="1.0"/>
<line x1="295.5" y1="541.5" x2="299.0" y2="544.2" stroke="#9A7A4E" stroke-width="1.0"/>
<line x1="291.4" y1="543.2" x2="290.8" y2="547.5" stroke="#9A7A4E" stroke-width="1.0"/>
<line x1="296.1" y1="537.2" x2="300.2" y2="535.5" stroke="#9A7A4E" stroke-width="1.0"/>
<line x1="290.8" y1="547.5" x2="294.3" y2="550.2" stroke="#9A7A4E" stroke-width="1.0"/>
<line x1="293.7" y1="554.6" x2="289.6" y2="556.2" stroke="#9A7A4E" stroke-width="1.0"/>
<line x1="293.7" y1="554.6" x2="294.3" y2="550.2" stroke="#9A7A4E" stroke-width="1.0"/>
<line x1="293.7" y1="554.6" x2="297.1" y2="557.3" stroke="#9A7A4E" stroke-width="1.0"/>
<line x1="289.6" y1="556.2" x2="289.0" y2="560.6" stroke="#9A7A4E" stroke-width="1.0"/>
<line x1="294.3" y1="550.2" x2="298.4" y2="548.6" stroke="#9A7A4E" stroke-width="1.0"/>
<line x1="289.0" y1="560.6" x2="292.5" y2="563.3" stroke="#9A7A4E" stroke-width="1.0"/>
<line x1="292.5" y1="563.3" x2="296.5" y2="561.7" stroke="#9A7A4E" stroke-width="1.0"/>
<line x1="304.9" y1="529.5" x2="300.8" y2="531.2" stroke="#9A7A4E" stroke-width="1.0"/>
<line x1="304.9" y1="529.5" x2="308.4" y2="532.2" stroke="#9A7A4E" stroke-width="1.0"/>
<line x1="300.8" y1="531.2" x2="300.2" y2="535.5" stroke="#9A7A4E" stroke-width="1.0"/>
<line x1="300.2" y1="535.5" x2="303.7" y2="538.2" stroke="#9A7A4E" stroke-width="1.0"/>
<line x1="303.1" y1="542.6" x2="299.0" y2="544.2" stroke="#9A7A4E" stroke-width="1.0"/>
<line x1="303.1" y1="542.6" x2="303.7" y2="538.2" stroke="#9A7A4E" stroke-width="1.0"/>
<line x1="303.1" y1="542.6" x2="306.5" y2="545.3" stroke="#9A7A4E" stroke-width="1.0"/>
<line x1="299.0" y1="544.2" x2="298.4" y2="548.6" stroke="#9A7A4E" stroke-width="1.0"/>
<line x1="303.7" y1="538.2" x2="307.8" y2="536.6" stroke="#9A7A4E" stroke-width="1.0"/>
<line x1="298.4" y1="548.6" x2="301.8" y2="551.3" stroke="#9A7A4E" stroke-width="1.0"/>
<line x1="301.2" y1="555.7" x2="297.1" y2="557.3" stroke="#9A7A4E" stroke-width="1.0"/>
<line x1="301.2" y1="555.7" x2="301.8" y2="551.3" stroke="#9A7A4E" stroke-width="1.0"/>
<line x1="301.2" y1="555.7" x2="304.7" y2="558.4" stroke="#9A7A4E" stroke-width="1.0"/>
<line x1="297.1" y1="557.3" x2="296.5" y2="561.7" stroke="#9A7A4E" stroke-width="1.0"/>
<line x1="301.8" y1="551.3" x2="305.9" y2="549.6" stroke="#9A7A4E" stroke-width="1.0"/>
<line x1="296.5" y1="561.7" x2="300.0" y2="564.4" stroke="#9A7A4E" stroke-width="1.0"/>
<line x1="300.0" y1="564.4" x2="304.1" y2="562.7" stroke="#9A7A4E" stroke-width="1.0"/>
<line x1="312.4" y1="530.6" x2="308.4" y2="532.2" stroke="#9A7A4E" stroke-width="1.0"/>
<line x1="312.4" y1="530.6" x2="315.9" y2="533.3" stroke="#9A7A4E" stroke-width="1.0"/>
<line x1="308.4" y1="532.2" x2="307.8" y2="536.6" stroke="#9A7A4E" stroke-width="1.0"/>
<line x1="307.8" y1="536.6" x2="311.2" y2="539.3" stroke="#9A7A4E" stroke-width="1.0"/>
<line x1="310.6" y1="543.6" x2="306.5" y2="545.3" stroke="#9A7A4E" stroke-width="1.0"/>
<line x1="310.6" y1="543.6" x2="311.2" y2="539.3" stroke="#9A7A4E" stroke-width="1.0"/>
<line x1="310.6" y1="543.6" x2="314.1" y2="546.4" stroke="#9A7A4E" stroke-width="1.0"/>
<line x1="306.5" y1="545.3" x2="305.9" y2="549.6" stroke="#9A7A4E" stroke-width="1.0"/>
<line x1="311.2" y1="539.3" x2="315.3" y2="537.6" stroke="#9A7A4E" stroke-width="1.0"/>
<line x1="305.9" y1="549.6" x2="309.4" y2="552.4" stroke="#9A7A4E" stroke-width="1.0"/>
<line x1="308.8" y1="556.7" x2="304.7" y2="558.4" stroke="#9A7A4E" stroke-width="1.0"/>
<line x1="308.8" y1="556.7" x2="309.4" y2="552.4" stroke="#9A7A4E" stroke-width="1.0"/>
<line x1="308.8" y1="556.7" x2="312.2" y2="559.4" stroke="#9A7A4E" stroke-width="1.0"/>
<line x1="304.7" y1="558.4" x2="304.1" y2="562.7" stroke="#9A7A4E" stroke-width="1.0"/>
<line x1="309.4" y1="552.4" x2="313.5" y2="550.7" stroke="#9A7A4E" stroke-width="1.0"/>
<line x1="304.1" y1="562.7" x2="307.6" y2="565.4" stroke="#9A7A4E" stroke-width="1.0"/>
<line x1="307.6" y1="565.4" x2="311.6" y2="563.8" stroke="#9A7A4E" stroke-width="1.0"/>
<line x1="320.0" y1="531.6" x2="315.9" y2="533.3" stroke="#9A7A4E" stroke-width="1.0"/>
<line x1="320.0" y1="531.6" x2="323.5" y2="534.3" stroke="#9A7A4E" stroke-width="1.0"/>
<line x1="315.9" y1="533.3" x2="315.3" y2="537.6" stroke="#9A7A4E" stroke-width="1.0"/>
<line x1="315.3" y1="537.6" x2="318.8" y2="540.3" stroke="#9A7A4E" stroke-width="1.0"/>
<line x1="318.2" y1="544.7" x2="314.1" y2="546.4" stroke="#9A7A4E" stroke-width="1.0"/>
<line x1="318.2" y1="544.7" x2="318.8" y2="540.3" stroke="#9A7A4E" stroke-width="1.0"/>
<line x1="318.2" y1="544.7" x2="321.6" y2="547.4" stroke="#9A7A4E" stroke-width="1.0"/>
<line x1="314.1" y1="546.4" x2="313.5" y2="550.7" stroke="#9A7A4E" stroke-width="1.0"/>
<line x1="318.8" y1="540.3" x2="322.9" y2="538.7" stroke="#9A7A4E" stroke-width="1.0"/>
<line x1="313.5" y1="550.7" x2="316.9" y2="553.4" stroke="#9A7A4E" stroke-width="1.0"/>
<line x1="316.3" y1="557.8" x2="312.2" y2="559.4" stroke="#9A7A4E" stroke-width="1.0"/>
<line x1="316.3" y1="557.8" x2="316.9" y2="553.4" stroke="#9A7A4E" stroke-width="1.0"/>
<line x1="316.3" y1="557.8" x2="319.8" y2="560.5" stroke="#9A7A4E" stroke-width="1.0"/>
<line x1="312.2" y1="559.4" x2="311.6" y2="563.8" stroke="#9A7A4E" stroke-width="1.0"/>
<line x1="316.9" y1="553.4" x2="321.0" y2="551.8" stroke="#9A7A4E" stroke-width="1.0"/>
<line x1="311.6" y1="563.8" x2="315.1" y2="566.5" stroke="#9A7A4E" stroke-width="1.0"/>
<line x1="315.1" y1="566.5" x2="319.2" y2="564.8" stroke="#9A7A4E" stroke-width="1.0"/>
<line x1="327.5" y1="532.7" x2="323.5" y2="534.3" stroke="#9A7A4E" stroke-width="1.0"/>
<line x1="327.5" y1="532.7" x2="331.0" y2="535.4" stroke="#9A7A4E" stroke-width="1.0"/>
<line x1="323.5" y1="534.3" x2="322.9" y2="538.7" stroke="#9A7A4E" stroke-width="1.0"/>
<line x1="322.9" y1="538.7" x2="326.3" y2="541.4" stroke="#9A7A4E" stroke-width="1.0"/>
<line x1="325.7" y1="545.8" x2="321.6" y2="547.4" stroke="#9A7A4E" stroke-width="1.0"/>
<line x1="325.7" y1="545.8" x2="326.3" y2="541.4" stroke="#9A7A4E" stroke-width="1.0"/>
<line x1="325.7" y1="545.8" x2="329.2" y2="548.5" stroke="#9A7A4E" stroke-width="1.0"/>
<line x1="321.6" y1="547.4" x2="321.0" y2="551.8" stroke="#9A7A4E" stroke-width="1.0"/>
<line x1="326.3" y1="541.4" x2="330.4" y2="539.8" stroke="#9A7A4E" stroke-width="1.0"/>
<line x1="321.0" y1="551.8" x2="324.5" y2="554.5" stroke="#9A7A4E" stroke-width="1.0"/>
<line x1="323.9" y1="558.8" x2="319.8" y2="560.5" stroke="#9A7A4E" stroke-width="1.0"/>
<line x1="323.9" y1="558.8" x2="324.5" y2="554.5" stroke="#9A7A4E" stroke-width="1.0"/>
<line x1="323.9" y1="558.8" x2="327.3" y2="561.5" stroke="#9A7A4E" stroke-width="1.0"/>
<line x1="319.8" y1="560.5" x2="319.2" y2="564.8" stroke="#9A7A4E" stroke-width="1.0"/>
<line x1="324.5" y1="554.5" x2="328.6" y2="552.8" stroke="#9A7A4E" stroke-width="1.0"/>
<line x1="319.2" y1="564.8" x2="322.6" y2="567.5" stroke="#9A7A4E" stroke-width="1.0"/>
<line x1="322.6" y1="567.5" x2="326.7" y2="565.9" stroke="#9A7A4E" stroke-width="1.0"/>
<line x1="331.0" y1="535.4" x2="330.4" y2="539.8" stroke="#9A7A4E" stroke-width="1.0"/>
<line x1="330.4" y1="539.8" x2="333.9" y2="542.5" stroke="#9A7A4E" stroke-width="1.0"/>
<line x1="333.3" y1="546.8" x2="329.2" y2="548.5" stroke="#9A7A4E" stroke-width="1.0"/>
<line x1="333.3" y1="546.8" x2="333.9" y2="542.5" stroke="#9A7A4E" stroke-width="1.0"/>
<line x1="329.2" y1="548.5" x2="328.6" y2="552.8" stroke="#9A7A4E" stroke-width="1.0"/>
<line x1="328.6" y1="552.8" x2="332.0" y2="555.5" stroke="#9A7A4E" stroke-width="1.0"/>
<line x1="331.4" y1="559.9" x2="327.3" y2="561.5" stroke="#9A7A4E" stroke-width="1.0"/>
<line x1="331.4" y1="559.9" x2="332.0" y2="555.5" stroke="#9A7A4E" stroke-width="1.0"/>
<line x1="327.3" y1="561.5" x2="326.7" y2="565.9" stroke="#9A7A4E" stroke-width="1.0"/>
<line x1="288.0" y1="540.5" x2="284.7" y2="541.8" stroke="#D8D0C0" stroke-width="0.8"/>
<line x1="288.6" y1="536.1" x2="285.8" y2="533.9" stroke="#D8D0C0" stroke-width="0.8"/>
<line x1="286.1" y1="553.5" x2="282.9" y2="554.9" stroke="#D8D0C0" stroke-width="0.8"/>
<line x1="286.7" y1="549.2" x2="284.0" y2="547.0" stroke="#D8D0C0" stroke-width="0.8"/>
<line x1="297.4" y1="528.5" x2="297.8" y2="525.0" stroke="#D8D0C0" stroke-width="0.8"/>
<line x1="293.3" y1="530.1" x2="290.5" y2="527.9" stroke="#D8D0C0" stroke-width="0.8"/>
<line x1="289.0" y1="560.6" x2="285.7" y2="561.9" stroke="#D8D0C0" stroke-width="0.8"/>
<line x1="292.5" y1="563.3" x2="292.0" y2="566.8" stroke="#D8D0C0" stroke-width="0.8"/>
<line x1="304.9" y1="529.5" x2="305.4" y2="526.0" stroke="#D8D0C0" stroke-width="0.8"/>
<line x1="300.0" y1="564.4" x2="299.5" y2="567.9" stroke="#D8D0C0" stroke-width="0.8"/>
<line x1="312.4" y1="530.6" x2="312.9" y2="527.1" stroke="#D8D0C0" stroke-width="0.8"/>
<line x1="307.6" y1="565.4" x2="307.1" y2="568.9" stroke="#D8D0C0" stroke-width="0.8"/>
<line x1="320.0" y1="531.6" x2="320.5" y2="528.1" stroke="#D8D0C0" stroke-width="0.8"/>
<line x1="315.1" y1="566.5" x2="314.6" y2="570.0" stroke="#D8D0C0" stroke-width="0.8"/>
<line x1="327.5" y1="532.7" x2="328.0" y2="529.2" stroke="#D8D0C0" stroke-width="0.8"/>
<line x1="322.6" y1="567.5" x2="322.2" y2="571.0" stroke="#D8D0C0" stroke-width="0.8"/>
<line x1="331.0" y1="535.4" x2="334.3" y2="534.1" stroke="#D8D0C0" stroke-width="0.8"/>
<line x1="333.3" y1="546.8" x2="336.0" y2="549.0" stroke="#D8D0C0" stroke-width="0.8"/>
<line x1="333.9" y1="542.5" x2="337.1" y2="541.1" stroke="#D8D0C0" stroke-width="0.8"/>
<line x1="331.4" y1="559.9" x2="334.2" y2="562.1" stroke="#D8D0C0" stroke-width="0.8"/>
<line x1="332.0" y1="555.5" x2="335.3" y2="554.2" stroke="#D8D0C0" stroke-width="0.8"/>
<line x1="326.7" y1="565.9" x2="329.5" y2="568.1" stroke="#D8D0C0" stroke-width="0.8"/>
<circle cx="288.0" cy="540.5" r="1.35" fill="url(#gC)"/>
<circle cx="288.6" cy="536.1" r="1.35" fill="url(#gC)"/>
<circle cx="286.1" cy="553.5" r="1.35" fill="url(#gC)"/>
<circle cx="286.7" cy="549.2" r="1.35" fill="url(#gC)"/>
<circle cx="297.4" cy="528.5" r="1.35" fill="url(#gC)"/>
<circle cx="293.3" cy="530.1" r="1.35" fill="url(#gC)"/>
<circle cx="292.7" cy="534.5" r="1.35" fill="url(#gC)"/>
<circle cx="295.5" cy="541.5" r="1.35" fill="url(#gC)"/>
<circle cx="291.4" cy="543.2" r="1.35" fill="url(#gC)"/>
<circle cx="296.1" cy="537.2" r="1.35" fill="url(#gC)"/>
<circle cx="290.8" cy="547.5" r="1.35" fill="url(#gC)"/>
<circle cx="293.7" cy="554.6" r="1.35" fill="url(#gC)"/>
<circle cx="289.6" cy="556.2" r="1.35" fill="url(#gC)"/>
<circle cx="294.3" cy="550.2" r="1.35" fill="url(#gC)"/>
<circle cx="289.0" cy="560.6" r="1.35" fill="url(#gC)"/>
<circle cx="292.5" cy="563.3" r="1.35" fill="url(#gC)"/>
<circle cx="304.9" cy="529.5" r="1.35" fill="url(#gC)"/>
<circle cx="300.8" cy="531.2" r="1.35" fill="url(#gC)"/>
<circle cx="300.2" cy="535.5" r="1.35" fill="url(#gC)"/>
<circle cx="303.1" cy="542.6" r="1.35" fill="url(#gC)"/>
<circle cx="299.0" cy="544.2" r="1.35" fill="url(#gC)"/>
<circle cx="303.7" cy="538.2" r="1.35" fill="url(#gC)"/>
<circle cx="298.4" cy="548.6" r="1.35" fill="url(#gC)"/>
<circle cx="301.2" cy="555.7" r="1.35" fill="url(#gC)"/>
<circle cx="297.1" cy="557.3" r="1.35" fill="url(#gC)"/>
<circle cx="301.8" cy="551.3" r="1.35" fill="url(#gC)"/>
<circle cx="296.5" cy="561.7" r="1.35" fill="url(#gC)"/>
<circle cx="300.0" cy="564.4" r="1.35" fill="url(#gC)"/>
<circle cx="312.4" cy="530.6" r="1.35" fill="url(#gC)"/>
<circle cx="308.4" cy="532.2" r="1.35" fill="url(#gC)"/>
<circle cx="307.8" cy="536.6" r="1.35" fill="url(#gC)"/>
<circle cx="310.6" cy="543.6" r="1.35" fill="url(#gC)"/>
<circle cx="306.5" cy="545.3" r="1.35" fill="url(#gC)"/>
<circle cx="311.2" cy="539.3" r="1.35" fill="url(#gC)"/>
<circle cx="305.9" cy="549.6" r="1.35" fill="url(#gC)"/>
<circle cx="308.8" cy="556.7" r="1.35" fill="url(#gC)"/>
<circle cx="304.7" cy="558.4" r="1.35" fill="url(#gC)"/>
<circle cx="309.4" cy="552.4" r="1.35" fill="url(#gC)"/>
<circle cx="304.1" cy="562.7" r="1.35" fill="url(#gC)"/>
<circle cx="307.6" cy="565.4" r="1.35" fill="url(#gC)"/>
<circle cx="320.0" cy="531.6" r="1.35" fill="url(#gC)"/>
<circle cx="315.9" cy="533.3" r="1.35" fill="url(#gC)"/>
<circle cx="315.3" cy="537.6" r="1.35" fill="url(#gC)"/>
<circle cx="318.2" cy="544.7" r="1.35" fill="url(#gC)"/>
<circle cx="314.1" cy="546.4" r="1.35" fill="url(#gC)"/>
<circle cx="318.8" cy="540.3" r="1.35" fill="url(#gC)"/>
<circle cx="313.5" cy="550.7" r="1.35" fill="url(#gC)"/>
<circle cx="316.3" cy="557.8" r="1.35" fill="url(#gC)"/>
<circle cx="312.2" cy="559.4" r="1.35" fill="url(#gC)"/>
<circle cx="316.9" cy="553.4" r="1.35" fill="url(#gC)"/>
<circle cx="311.6" cy="563.8" r="1.35" fill="url(#gC)"/>
<circle cx="315.1" cy="566.5" r="1.35" fill="url(#gC)"/>
<circle cx="327.5" cy="532.7" r="1.35" fill="url(#gC)"/>
<circle cx="323.5" cy="534.3" r="1.35" fill="url(#gC)"/>
<circle cx="322.9" cy="538.7" r="1.35" fill="url(#gC)"/>
<circle cx="325.7" cy="545.8" r="1.35" fill="url(#gC)"/>
<circle cx="321.6" cy="547.4" r="1.35" fill="url(#gC)"/>
<circle cx="326.3" cy="541.4" r="1.35" fill="url(#gC)"/>
<circle cx="321.0" cy="551.8" r="1.35" fill="url(#gC)"/>
<circle cx="323.9" cy="558.8" r="1.35" fill="url(#gC)"/>
<circle cx="319.8" cy="560.5" r="1.35" fill="url(#gC)"/>
<circle cx="324.5" cy="554.5" r="1.35" fill="url(#gC)"/>
<circle cx="319.2" cy="564.8" r="1.35" fill="url(#gC)"/>
<circle cx="322.6" cy="567.5" r="1.35" fill="url(#gC)"/>
<circle cx="331.0" cy="535.4" r="1.35" fill="url(#gC)"/>
<circle cx="330.4" cy="539.8" r="1.35" fill="url(#gC)"/>
<circle cx="333.3" cy="546.8" r="1.35" fill="url(#gC)"/>
<circle cx="329.2" cy="548.5" r="1.35" fill="url(#gC)"/>
<circle cx="333.9" cy="542.5" r="1.35" fill="url(#gC)"/>
<circle cx="328.6" cy="552.8" r="1.35" fill="url(#gC)"/>
<circle cx="331.4" cy="559.9" r="1.35" fill="url(#gC)"/>
<circle cx="327.3" cy="561.5" r="1.35" fill="url(#gC)"/>
<circle cx="332.0" cy="555.5" r="1.35" fill="url(#gC)"/>
<circle cx="326.7" cy="565.9" r="1.35" fill="url(#gC)"/>
<circle cx="284.7" cy="541.8" r="1.10" fill="url(#gH)"/>
<circle cx="285.8" cy="533.9" r="1.10" fill="url(#gH)"/>
<circle cx="282.9" cy="554.9" r="1.10" fill="url(#gH)"/>
<circle cx="284.0" cy="547.0" r="1.10" fill="url(#gH)"/>
<circle cx="297.8" cy="525.0" r="1.10" fill="url(#gH)"/>
<circle cx="290.5" cy="527.9" r="1.10" fill="url(#gH)"/>
<circle cx="285.7" cy="561.9" r="1.10" fill="url(#gH)"/>
<circle cx="292.0" cy="566.8" r="1.10" fill="url(#gH)"/>
<circle cx="305.4" cy="526.0" r="1.10" fill="url(#gH)"/>
<circle cx="299.5" cy="567.9" r="1.10" fill="url(#gH)"/>
<circle cx="312.9" cy="527.1" r="1.10" fill="url(#gH)"/>
<circle cx="307.1" cy="568.9" r="1.10" fill="url(#gH)"/>
<circle cx="320.5" cy="528.1" r="1.10" fill="url(#gH)"/>
<circle cx="314.6" cy="570.0" r="1.10" fill="url(#gH)"/>
<circle cx="328.0" cy="529.2" r="1.10" fill="url(#gH)"/>
<circle cx="322.2" cy="571.0" r="1.10" fill="url(#gH)"/>
<circle cx="334.3" cy="534.1" r="1.10" fill="url(#gH)"/>
<circle cx="336.0" cy="549.0" r="1.10" fill="url(#gH)"/>
<circle cx="337.1" cy="541.1" r="1.10" fill="url(#gH)"/>
<circle cx="334.2" cy="562.1" r="1.10" fill="url(#gH)"/>
<circle cx="335.3" cy="554.2" r="1.10" fill="url(#gH)"/>
<circle cx="329.5" cy="568.1" r="1.10" fill="url(#gH)"/>
<ellipse cx="287.0" cy="543.4" rx="2.0" ry="2.0" fill="url(#gB)" opacity="0.95"/>
<ellipse cx="285.6" cy="552.9" rx="2.5" ry="2.3" fill="url(#gG)" opacity="0.95"/>
<ellipse cx="284.3" cy="561.0" rx="1.5" ry="1.5" fill="url(#gB)" opacity="0.95"/>
<ellipse cx="289.7" cy="566.5" rx="2.5" ry="2.3" fill="url(#gG)" opacity="0.95"/>
<ellipse cx="310.1" cy="543.4" rx="3.0" ry="2.8" fill="url(#gG)" opacity="0.95"/>
<ellipse cx="309.0" cy="545.5" rx="1.6" ry="1.6" fill="url(#gB)" opacity="0.95"/>
<ellipse cx="308.7" cy="551.6" rx="1.5" ry="1.5" fill="url(#gB)" opacity="0.95"/>
<ellipse cx="300.6" cy="555.6" rx="1.5" ry="1.5" fill="url(#gG)" opacity="0.95"/>
<ellipse cx="330.4" cy="535.3" rx="1.5" ry="1.5" fill="url(#gB)" opacity="0.95"/>
<ellipse cx="337.2" cy="540.7" rx="1.5" ry="1.5" fill="url(#gG)" opacity="0.95"/>
<ellipse cx="334.5" cy="548.9" rx="2.0" ry="2.0" fill="url(#gB)" opacity="0.95"/>
<ellipse cx="333.1" cy="557.0" rx="2.0" ry="2.0" fill="url(#gG)" opacity="0.95"/>
<ellipse cx="316.9" cy="551.6" rx="1.2" ry="1.2" fill="url(#gB)" opacity="0.95"/>
<line x1="100.8" y1="247.2" x2="97.7" y2="251.3" stroke="#D5BC8C" stroke-width="1.1"/>
<line x1="100.8" y1="247.2" x2="106.2" y2="248.1" stroke="#D5BC8C" stroke-width="1.1"/>
<line x1="97.7" y1="251.3" x2="99.2" y2="256.0" stroke="#D5BC8C" stroke-width="1.1"/>
<line x1="99.2" y1="256.0" x2="103.6" y2="255.9" stroke="#D5BC8C" stroke-width="1.1"/>
<line x1="107.9" y1="244.1" x2="106.2" y2="248.1" stroke="#D5BC8C" stroke-width="1.1"/>
<line x1="107.9" y1="244.1" x2="113.3" y2="245.9" stroke="#D5BC8C" stroke-width="1.1"/>
<line x1="106.2" y1="248.1" x2="107.7" y2="251.9" stroke="#D5BC8C" stroke-width="1.1"/>
<line x1="107.7" y1="251.9" x2="103.6" y2="255.9" stroke="#D5BC8C" stroke-width="1.1"/>
<line x1="107.7" y1="251.9" x2="112.4" y2="253.0" stroke="#D5BC8C" stroke-width="1.1"/>
<line x1="103.6" y1="255.9" x2="105.3" y2="261.2" stroke="#D5BC8C" stroke-width="1.1"/>
<line x1="105.3" y1="261.2" x2="109.2" y2="262.8" stroke="#D5BC8C" stroke-width="1.1"/>
<line x1="116.1" y1="240.9" x2="113.3" y2="245.9" stroke="#D5BC8C" stroke-width="1.1"/>
<line x1="116.1" y1="240.9" x2="122.8" y2="243.2" stroke="#D5BC8C" stroke-width="1.1"/>
<line x1="113.3" y1="245.9" x2="115.7" y2="249.3" stroke="#D5BC8C" stroke-width="1.1"/>
<line x1="115.7" y1="249.3" x2="112.4" y2="253.0" stroke="#D5BC8C" stroke-width="1.1"/>
<line x1="115.7" y1="249.3" x2="120.2" y2="251.3" stroke="#D5BC8C" stroke-width="1.1"/>
<line x1="112.4" y1="253.0" x2="113.6" y2="257.7" stroke="#D5BC8C" stroke-width="1.1"/>
<line x1="113.6" y1="257.7" x2="109.2" y2="262.8" stroke="#D5BC8C" stroke-width="1.1"/>
<line x1="113.6" y1="257.7" x2="118.7" y2="260.3" stroke="#D5BC8C" stroke-width="1.1"/>
<line x1="124.7" y1="238.3" x2="122.8" y2="243.2" stroke="#D5BC8C" stroke-width="1.1"/>
<line x1="124.7" y1="238.3" x2="129.9" y2="239.2" stroke="#D5BC8C" stroke-width="1.1"/>
<line x1="122.8" y1="243.2" x2="123.1" y2="248.1" stroke="#D5BC8C" stroke-width="1.1"/>
<line x1="123.1" y1="248.1" x2="120.2" y2="251.3" stroke="#D5BC8C" stroke-width="1.1"/>
<line x1="123.1" y1="248.1" x2="128.0" y2="248.5" stroke="#D5BC8C" stroke-width="1.1"/>
<line x1="120.2" y1="251.3" x2="121.1" y2="256.5" stroke="#D5BC8C" stroke-width="1.1"/>
<line x1="121.1" y1="256.5" x2="118.7" y2="260.3" stroke="#D5BC8C" stroke-width="1.1"/>
<line x1="121.1" y1="256.5" x2="126.3" y2="256.4" stroke="#D5BC8C" stroke-width="1.1"/>
<line x1="118.7" y1="260.3" x2="120.6" y2="263.8" stroke="#D5BC8C" stroke-width="1.1"/>
<line x1="120.6" y1="263.8" x2="124.4" y2="265.2" stroke="#D5BC8C" stroke-width="1.1"/>
<line x1="129.9" y1="239.2" x2="131.1" y2="243.8" stroke="#D5BC8C" stroke-width="1.1"/>
<line x1="131.1" y1="243.8" x2="128.0" y2="248.5" stroke="#D5BC8C" stroke-width="1.1"/>
<line x1="131.1" y1="243.8" x2="137.4" y2="244.7" stroke="#D5BC8C" stroke-width="1.1"/>
<line x1="128.0" y1="248.5" x2="129.0" y2="253.4" stroke="#D5BC8C" stroke-width="1.1"/>
<line x1="129.0" y1="253.4" x2="126.3" y2="256.4" stroke="#D5BC8C" stroke-width="1.1"/>
<line x1="129.0" y1="253.4" x2="133.9" y2="254.6" stroke="#D5BC8C" stroke-width="1.1"/>
<line x1="126.3" y1="256.4" x2="128.7" y2="261.5" stroke="#D5BC8C" stroke-width="1.1"/>
<line x1="128.7" y1="261.5" x2="124.4" y2="265.2" stroke="#D5BC8C" stroke-width="1.1"/>
<line x1="128.7" y1="261.5" x2="132.1" y2="261.7" stroke="#D5BC8C" stroke-width="1.1"/>
<line x1="140.3" y1="241.1" x2="137.4" y2="244.7" stroke="#D5BC8C" stroke-width="1.1"/>
<line x1="140.3" y1="241.1" x2="144.3" y2="243.4" stroke="#D5BC8C" stroke-width="1.1"/>
<line x1="137.4" y1="244.7" x2="138.6" y2="251.0" stroke="#D5BC8C" stroke-width="1.1"/>
<line x1="138.6" y1="251.0" x2="133.9" y2="254.6" stroke="#D5BC8C" stroke-width="1.1"/>
<line x1="138.6" y1="251.0" x2="142.7" y2="251.1" stroke="#D5BC8C" stroke-width="1.1"/>
<line x1="133.9" y1="254.6" x2="136.1" y2="259.0" stroke="#D5BC8C" stroke-width="1.1"/>
<line x1="136.1" y1="259.0" x2="132.1" y2="261.7" stroke="#D5BC8C" stroke-width="1.1"/>
<line x1="136.1" y1="259.0" x2="140.5" y2="260.3" stroke="#D5BC8C" stroke-width="1.1"/>
<line x1="132.1" y1="261.7" x2="134.0" y2="268.1" stroke="#D5BC8C" stroke-width="1.1"/>
<line x1="134.0" y1="268.1" x2="138.6" y2="269.1" stroke="#D5BC8C" stroke-width="1.1"/>
<line x1="144.3" y1="243.4" x2="147.1" y2="248.5" stroke="#D5BC8C" stroke-width="1.1"/>
<line x1="147.1" y1="248.5" x2="142.7" y2="251.1" stroke="#D5BC8C" stroke-width="1.1"/>
<line x1="147.1" y1="248.5" x2="150.5" y2="248.4" stroke="#D5BC8C" stroke-width="1.1"/>
<line x1="142.7" y1="251.1" x2="144.6" y2="256.7" stroke="#D5BC8C" stroke-width="1.1"/>
<line x1="144.6" y1="256.7" x2="140.5" y2="260.3" stroke="#D5BC8C" stroke-width="1.1"/>
<line x1="144.6" y1="256.7" x2="149.2" y2="258.0" stroke="#D5BC8C" stroke-width="1.1"/>
<line x1="140.5" y1="260.3" x2="143.3" y2="265.3" stroke="#D5BC8C" stroke-width="1.1"/>
<line x1="143.3" y1="265.3" x2="138.6" y2="269.1" stroke="#D5BC8C" stroke-width="1.1"/>
<line x1="143.3" y1="265.3" x2="147.3" y2="265.1" stroke="#D5BC8C" stroke-width="1.1"/>
<line x1="150.5" y1="248.4" x2="153.0" y2="254.2" stroke="#D5BC8C" stroke-width="1.1"/>
<line x1="153.0" y1="254.2" x2="149.2" y2="258.0" stroke="#D5BC8C" stroke-width="1.1"/>
<line x1="149.2" y1="258.0" x2="151.1" y2="261.6" stroke="#D5BC8C" stroke-width="1.1"/>
<line x1="151.1" y1="261.6" x2="147.3" y2="265.1" stroke="#D5BC8C" stroke-width="1.1"/>
<line x1="100.8" y1="247.2" x2="99.0" y2="243.6" stroke="#D8D0C0" stroke-width="0.8800000000000001"/>
<line x1="97.7" y1="251.3" x2="93.8" y2="250.7" stroke="#D8D0C0" stroke-width="0.8800000000000001"/>
<line x1="99.2" y1="256.0" x2="97.1" y2="259.5" stroke="#D8D0C0" stroke-width="0.8800000000000001"/>
<line x1="105.3" y1="261.2" x2="103.2" y2="264.6" stroke="#D8D0C0" stroke-width="0.8800000000000001"/>
<line x1="116.1" y1="240.9" x2="114.3" y2="237.4" stroke="#D8D0C0" stroke-width="0.8800000000000001"/>
<line x1="124.7" y1="238.3" x2="122.8" y2="234.8" stroke="#D8D0C0" stroke-width="0.8800000000000001"/>
<line x1="120.6" y1="263.8" x2="117.9" y2="266.8" stroke="#D8D0C0" stroke-width="0.8800000000000001"/>
<line x1="129.9" y1="239.2" x2="132.9" y2="236.5" stroke="#D8D0C0" stroke-width="0.8800000000000001"/>
<line x1="124.4" y1="265.2" x2="124.1" y2="269.2" stroke="#D8D0C0" stroke-width="0.8800000000000001"/>
<line x1="134.0" y1="268.1" x2="132.1" y2="271.7" stroke="#D8D0C0" stroke-width="0.8800000000000001"/>
<line x1="144.3" y1="243.4" x2="145.8" y2="239.7" stroke="#D8D0C0" stroke-width="0.8800000000000001"/>
<line x1="138.6" y1="269.1" x2="138.5" y2="273.1" stroke="#D8D0C0" stroke-width="0.8800000000000001"/>
<line x1="153.0" y1="254.2" x2="156.8" y2="255.5" stroke="#D8D0C0" stroke-width="0.8800000000000001"/>
<line x1="151.1" y1="261.6" x2="155.1" y2="261.7" stroke="#D8D0C0" stroke-width="0.8800000000000001"/>
<circle cx="100.8" cy="247.2" r="1.90" fill="url(#gC2)"/>
<circle cx="97.7" cy="251.3" r="1.90" fill="url(#gC2)"/>
<circle cx="99.2" cy="256.0" r="1.90" fill="url(#gC2)"/>
<circle cx="107.9" cy="244.1" r="1.90" fill="url(#gC2)"/>
<circle cx="106.2" cy="248.1" r="1.90" fill="url(#gC2)"/>
<circle cx="107.7" cy="251.9" r="1.90" fill="url(#gC2)"/>
<circle cx="103.6" cy="255.9" r="1.90" fill="url(#gC2)"/>
<circle cx="105.3" cy="261.2" r="1.90" fill="url(#gC2)"/>
<circle cx="116.1" cy="240.9" r="1.90" fill="url(#gC2)"/>
<circle cx="113.3" cy="245.9" r="1.90" fill="url(#gC2)"/>
<circle cx="115.7" cy="249.3" r="1.90" fill="url(#gC2)"/>
<circle cx="112.4" cy="253.0" r="1.90" fill="url(#gC2)"/>
<circle cx="113.6" cy="257.7" r="1.90" fill="url(#gC2)"/>
<circle cx="109.2" cy="262.8" r="1.90" fill="url(#gC2)"/>
<circle cx="124.7" cy="238.3" r="1.90" fill="url(#gC2)"/>
<circle cx="122.8" cy="243.2" r="1.90" fill="url(#gC2)"/>
<circle cx="123.1" cy="248.1" r="1.90" fill="url(#gC2)"/>
<circle cx="120.2" cy="251.3" r="1.90" fill="url(#gC2)"/>
<circle cx="121.1" cy="256.5" r="1.90" fill="url(#gC2)"/>
<circle cx="118.7" cy="260.3" r="1.90" fill="url(#gC2)"/>
<circle cx="120.6" cy="263.8" r="1.90" fill="url(#gC2)"/>
<circle cx="129.9" cy="239.2" r="1.90" fill="url(#gC2)"/>
<circle cx="131.1" cy="243.8" r="1.90" fill="url(#gC2)"/>
<circle cx="128.0" cy="248.5" r="1.90" fill="url(#gC2)"/>
<circle cx="129.0" cy="253.4" r="1.90" fill="url(#gC2)"/>
<circle cx="126.3" cy="256.4" r="1.90" fill="url(#gC2)"/>
<circle cx="128.7" cy="261.5" r="1.90" fill="url(#gC2)"/>
<circle cx="124.4" cy="265.2" r="1.90" fill="url(#gC2)"/>
<circle cx="140.3" cy="241.1" r="1.90" fill="url(#gC2)"/>
<circle cx="137.4" cy="244.7" r="1.90" fill="url(#gC2)"/>
<circle cx="138.6" cy="251.0" r="1.90" fill="url(#gC2)"/>
<circle cx="133.9" cy="254.6" r="1.90" fill="url(#gC2)"/>
<circle cx="136.1" cy="259.0" r="1.90" fill="url(#gC2)"/>
<circle cx="132.1" cy="261.7" r="1.90" fill="url(#gC2)"/>
<circle cx="134.0" cy="268.1" r="1.90" fill="url(#gC2)"/>
<circle cx="144.3" cy="243.4" r="1.90" fill="url(#gC2)"/>
<circle cx="147.1" cy="248.5" r="1.90" fill="url(#gC2)"/>
<circle cx="142.7" cy="251.1" r="1.90" fill="url(#gC2)"/>
<circle cx="144.6" cy="256.7" r="1.90" fill="url(#gC2)"/>
<circle cx="140.5" cy="260.3" r="1.90" fill="url(#gC2)"/>
<circle cx="143.3" cy="265.3" r="1.90" fill="url(#gC2)"/>
<circle cx="138.6" cy="269.1" r="1.90" fill="url(#gC2)"/>
<circle cx="150.5" cy="248.4" r="1.90" fill="url(#gC2)"/>
<circle cx="153.0" cy="254.2" r="1.90" fill="url(#gC2)"/>
<circle cx="149.2" cy="258.0" r="1.90" fill="url(#gC2)"/>
<circle cx="151.1" cy="261.6" r="1.90" fill="url(#gC2)"/>
<circle cx="147.3" cy="265.1" r="1.90" fill="url(#gC2)"/>
<circle cx="99.0" cy="243.6" r="1.20" fill="url(#gH)"/>
<circle cx="93.8" cy="250.7" r="1.20" fill="url(#gH)"/>
<circle cx="97.1" cy="259.5" r="1.20" fill="url(#gH)"/>
<circle cx="103.2" cy="264.6" r="1.20" fill="url(#gH)"/>
<circle cx="114.3" cy="237.4" r="1.20" fill="url(#gH)"/>
<circle cx="122.8" cy="234.8" r="1.20" fill="url(#gH)"/>
<circle cx="117.9" cy="266.8" r="1.20" fill="url(#gH)"/>
<circle cx="132.9" cy="236.5" r="1.20" fill="url(#gH)"/>
<circle cx="124.1" cy="269.2" r="1.20" fill="url(#gH)"/>
<circle cx="132.1" cy="271.7" r="1.20" fill="url(#gH)"/>
<circle cx="145.8" cy="239.7" r="1.20" fill="url(#gH)"/>
<circle cx="138.5" cy="273.1" r="1.20" fill="url(#gH)"/>
<circle cx="156.8" cy="255.5" r="1.20" fill="url(#gH)"/>
<circle cx="155.1" cy="261.7" r="1.20" fill="url(#gH)"/>
<ellipse cx="131.2" cy="240.3" rx="3.4" ry="3.4" fill="url(#gB)" opacity="0.95"/>
<ellipse cx="131.2" cy="240.8" rx="1.8" ry="1.8" fill="url(#gG)" opacity="0.7"/>
<ellipse cx="139.4" cy="240.0" rx="2.6" ry="2.6" fill="url(#gB)" opacity="0.95"/>
<ellipse cx="144.5" cy="241.0" rx="2.9" ry="2.8" fill="url(#gG)" opacity="0.95"/>
<ellipse cx="130.8" cy="251.6" rx="4.3" ry="4.3" fill="url(#gB)" opacity="0.95"/>
<ellipse cx="131.0" cy="252.0" rx="3.2" ry="3.2" fill="url(#gG)" opacity="0.95"/>
<ellipse cx="138.3" cy="251.6" rx="2.7" ry="2.6" fill="url(#gG)" opacity="0.95"/>
<ellipse cx="143.6" cy="252.4" rx="3.3" ry="3.3" fill="url(#gB)" opacity="0.95"/>
<ellipse cx="123.3" cy="251.1" rx="1.3" ry="1.3" fill="url(#gG)" opacity="0.95"/>
<ellipse cx="129.3" cy="260.6" rx="1.3" ry="1.3" fill="url(#gB)" opacity="0.95"/>
<line x1="104.0" y1="236.0" x2="108.0" y2="242.0" stroke="#D5BC8C" stroke-width="1.1"/>
<line x1="104.0" y1="236.0" x2="100.0" y2="232.0" stroke="#DDD" stroke-width="0.8"/>
<line x1="104.0" y1="236.0" x2="108.0" y2="232.0" stroke="#DDD" stroke-width="0.8"/>
<circle cx="104.0" cy="236.0" r="2.00" fill="url(#gC2)"/>
<circle cx="108.0" cy="242.0" r="1.90" fill="url(#gC2)"/>
<circle cx="100.0" cy="232.0" r="1.10" fill="url(#gH)"/>
<circle cx="108.0" cy="232.0" r="1.10" fill="url(#gH)"/>
<line x1="100.7" y1="535.9" x2="96.7" y2="540.2" stroke="#D5BC8C" stroke-width="1.1"/>
<line x1="100.7" y1="535.9" x2="105.7" y2="537.2" stroke="#D5BC8C" stroke-width="1.1"/>
<line x1="96.7" y1="540.2" x2="97.8" y2="544.2" stroke="#D5BC8C" stroke-width="1.1"/>
<line x1="97.8" y1="544.2" x2="96.1" y2="546.9" stroke="#D5BC8C" stroke-width="1.1"/>
<line x1="97.8" y1="544.2" x2="102.9" y2="544.7" stroke="#D5BC8C" stroke-width="1.1"/>
<line x1="96.1" y1="546.9" x2="96.8" y2="552.5" stroke="#D5BC8C" stroke-width="1.1"/>
<line x1="96.8" y1="552.5" x2="101.5" y2="553.9" stroke="#D5BC8C" stroke-width="1.1"/>
<line x1="107.9" y1="533.6" x2="105.7" y2="537.2" stroke="#D5BC8C" stroke-width="1.1"/>
<line x1="107.9" y1="533.6" x2="113.7" y2="535.4" stroke="#D5BC8C" stroke-width="1.1"/>
<line x1="105.7" y1="537.2" x2="107.1" y2="541.3" stroke="#D5BC8C" stroke-width="1.1"/>
<line x1="107.1" y1="541.3" x2="102.9" y2="544.7" stroke="#D5BC8C" stroke-width="1.1"/>
<line x1="107.1" y1="541.3" x2="110.9" y2="542.5" stroke="#D5BC8C" stroke-width="1.1"/>
<line x1="102.9" y1="544.7" x2="104.7" y2="550.7" stroke="#D5BC8C" stroke-width="1.1"/>
<line x1="104.7" y1="550.7" x2="101.5" y2="553.9" stroke="#D5BC8C" stroke-width="1.1"/>
<line x1="104.7" y1="550.7" x2="108.8" y2="551.8" stroke="#D5BC8C" stroke-width="1.1"/>
<line x1="101.5" y1="553.9" x2="102.5" y2="558.5" stroke="#D5BC8C" stroke-width="1.1"/>
<line x1="102.5" y1="558.5" x2="107.1" y2="559.2" stroke="#D5BC8C" stroke-width="1.1"/>
<line x1="116.0" y1="531.2" x2="113.7" y2="535.4" stroke="#D5BC8C" stroke-width="1.1"/>
<line x1="116.0" y1="531.2" x2="122.1" y2="532.0" stroke="#D5BC8C" stroke-width="1.1"/>
<line x1="113.7" y1="535.4" x2="114.6" y2="538.9" stroke="#D5BC8C" stroke-width="1.1"/>
<line x1="114.6" y1="538.9" x2="110.9" y2="542.5" stroke="#D5BC8C" stroke-width="1.1"/>
<line x1="114.6" y1="538.9" x2="119.5" y2="541.5" stroke="#D5BC8C" stroke-width="1.1"/>
<line x1="110.9" y1="542.5" x2="112.3" y2="548.2" stroke="#D5BC8C" stroke-width="1.1"/>
<line x1="112.3" y1="548.2" x2="108.8" y2="551.8" stroke="#D5BC8C" stroke-width="1.1"/>
<line x1="112.3" y1="548.2" x2="116.6" y2="548.9" stroke="#D5BC8C" stroke-width="1.1"/>
<line x1="108.8" y1="551.8" x2="111.4" y2="554.9" stroke="#D5BC8C" stroke-width="1.1"/>
<line x1="111.4" y1="554.9" x2="107.1" y2="559.2" stroke="#D5BC8C" stroke-width="1.1"/>
<line x1="111.4" y1="554.9" x2="115.3" y2="557.7" stroke="#D5BC8C" stroke-width="1.1"/>
<line x1="107.1" y1="559.2" x2="107.8" y2="563.7" stroke="#D5BC8C" stroke-width="1.1"/>
<line x1="107.8" y1="563.7" x2="113.6" y2="564.2" stroke="#D5BC8C" stroke-width="1.1"/>
<line x1="122.1" y1="532.0" x2="122.9" y2="536.6" stroke="#D5BC8C" stroke-width="1.1"/>
<line x1="122.9" y1="536.6" x2="119.5" y2="541.5" stroke="#D5BC8C" stroke-width="1.1"/>
<line x1="122.9" y1="536.6" x2="127.5" y2="539.3" stroke="#D5BC8C" stroke-width="1.1"/>
<line x1="119.5" y1="541.5" x2="120.1" y2="544.5" stroke="#D5BC8C" stroke-width="1.1"/>
<line x1="120.1" y1="544.5" x2="116.6" y2="548.9" stroke="#D5BC8C" stroke-width="1.1"/>
<line x1="120.1" y1="544.5" x2="125.5" y2="545.9" stroke="#D5BC8C" stroke-width="1.1"/>
<line x1="116.6" y1="548.9" x2="117.8" y2="552.7" stroke="#D5BC8C" stroke-width="1.1"/>
<line x1="117.8" y1="552.7" x2="115.3" y2="557.7" stroke="#D5BC8C" stroke-width="1.1"/>
<line x1="117.8" y1="552.7" x2="124.2" y2="553.9" stroke="#D5BC8C" stroke-width="1.1"/>
<line x1="115.3" y1="557.7" x2="116.5" y2="561.3" stroke="#D5BC8C" stroke-width="1.1"/>
<line x1="116.5" y1="561.3" x2="113.6" y2="564.2" stroke="#D5BC8C" stroke-width="1.1"/>
<line x1="116.5" y1="561.3" x2="120.8" y2="562.9" stroke="#D5BC8C" stroke-width="1.1"/>
<line x1="130.8" y1="534.4" x2="127.5" y2="539.3" stroke="#D5BC8C" stroke-width="1.1"/>
<line x1="130.8" y1="534.4" x2="134.5" y2="535.9" stroke="#D5BC8C" stroke-width="1.1"/>
<line x1="127.5" y1="539.3" x2="127.9" y2="543.2" stroke="#D5BC8C" stroke-width="1.1"/>
<line x1="127.9" y1="543.2" x2="125.5" y2="545.9" stroke="#D5BC8C" stroke-width="1.1"/>
<line x1="127.9" y1="543.2" x2="133.8" y2="543.5" stroke="#D5BC8C" stroke-width="1.1"/>
<line x1="125.5" y1="545.9" x2="126.2" y2="552.1" stroke="#D5BC8C" stroke-width="1.1"/>
<line x1="126.2" y1="552.1" x2="124.2" y2="553.9" stroke="#D5BC8C" stroke-width="1.1"/>
<line x1="126.2" y1="552.1" x2="131.5" y2="552.2" stroke="#D5BC8C" stroke-width="1.1"/>
<line x1="124.2" y1="553.9" x2="125.0" y2="560.0" stroke="#D5BC8C" stroke-width="1.1"/>
<line x1="125.0" y1="560.0" x2="120.8" y2="562.9" stroke="#D5BC8C" stroke-width="1.1"/>
<line x1="125.0" y1="560.0" x2="129.4" y2="559.5" stroke="#D5BC8C" stroke-width="1.1"/>
<line x1="134.5" y1="535.9" x2="137.0" y2="541.0" stroke="#D5BC8C" stroke-width="1.1"/>
<line x1="137.0" y1="541.0" x2="133.8" y2="543.5" stroke="#D5BC8C" stroke-width="1.1"/>
<line x1="137.0" y1="541.0" x2="141.2" y2="541.4" stroke="#D5BC8C" stroke-width="1.1"/>
<line x1="133.8" y1="543.5" x2="134.4" y2="549.5" stroke="#D5BC8C" stroke-width="1.1"/>
<line x1="134.4" y1="549.5" x2="131.5" y2="552.2" stroke="#D5BC8C" stroke-width="1.1"/>
<line x1="134.4" y1="549.5" x2="138.6" y2="550.3" stroke="#D5BC8C" stroke-width="1.1"/>
<line x1="131.5" y1="552.2" x2="132.5" y2="557.8" stroke="#D5BC8C" stroke-width="1.1"/>
<line x1="132.5" y1="557.8" x2="129.4" y2="559.5" stroke="#D5BC8C" stroke-width="1.1"/>
<line x1="132.5" y1="557.8" x2="136.4" y2="558.6" stroke="#D5BC8C" stroke-width="1.1"/>
<line x1="129.4" y1="559.5" x2="131.2" y2="564.7" stroke="#D5BC8C" stroke-width="1.1"/>
<line x1="131.2" y1="564.7" x2="135.7" y2="565.7" stroke="#D5BC8C" stroke-width="1.1"/>
<line x1="141.2" y1="541.4" x2="142.5" y2="546.3" stroke="#D5BC8C" stroke-width="1.1"/>
<line x1="142.5" y1="546.3" x2="138.6" y2="550.3" stroke="#D5BC8C" stroke-width="1.1"/>
<line x1="142.5" y1="546.3" x2="147.7" y2="547.6" stroke="#D5BC8C" stroke-width="1.1"/>
<line x1="138.6" y1="550.3" x2="139.9" y2="555.2" stroke="#D5BC8C" stroke-width="1.1"/>
<line x1="139.9" y1="555.2" x2="136.4" y2="558.6" stroke="#D5BC8C" stroke-width="1.1"/>
<line x1="139.9" y1="555.2" x2="145.1" y2="555.6" stroke="#D5BC8C" stroke-width="1.1"/>
<line x1="136.4" y1="558.6" x2="139.2" y2="562.7" stroke="#D5BC8C" stroke-width="1.1"/>
<line x1="139.2" y1="562.7" x2="135.7" y2="565.7" stroke="#D5BC8C" stroke-width="1.1"/>
<line x1="139.2" y1="562.7" x2="143.6" y2="563.3" stroke="#D5BC8C" stroke-width="1.1"/>
<line x1="147.7" y1="547.6" x2="148.1" y2="553.2" stroke="#D5BC8C" stroke-width="1.1"/>
<line x1="148.1" y1="553.2" x2="145.1" y2="555.6" stroke="#D5BC8C" stroke-width="1.1"/>
<line x1="148.1" y1="553.2" x2="152.5" y2="554.4" stroke="#D5BC8C" stroke-width="1.1"/>
<line x1="145.1" y1="555.6" x2="147.3" y2="560.2" stroke="#D5BC8C" stroke-width="1.1"/>
<line x1="147.3" y1="560.2" x2="143.6" y2="563.3" stroke="#D5BC8C" stroke-width="1.1"/>
<line x1="147.3" y1="560.2" x2="152.1" y2="561.8" stroke="#D5BC8C" stroke-width="1.1"/>
<line x1="143.6" y1="563.3" x2="145.2" y2="568.1" stroke="#D5BC8C" stroke-width="1.1"/>
<line x1="145.2" y1="568.1" x2="148.7" y2="569.4" stroke="#D5BC8C" stroke-width="1.1"/>
<line x1="152.5" y1="554.4" x2="154.0" y2="558.9" stroke="#D5BC8C" stroke-width="1.1"/>
<line x1="154.0" y1="558.9" x2="152.1" y2="561.8" stroke="#D5BC8C" stroke-width="1.1"/>
<line x1="152.1" y1="561.8" x2="151.7" y2="565.4" stroke="#D5BC8C" stroke-width="1.1"/>
<line x1="151.7" y1="565.4" x2="148.7" y2="569.4" stroke="#D5BC8C" stroke-width="1.1"/>
<line x1="100.7" y1="535.9" x2="99.9" y2="532.1" stroke="#D8D0C0" stroke-width="0.8800000000000001"/>
<line x1="96.1" y1="546.9" x2="93.6" y2="544.0" stroke="#D8D0C0" stroke-width="0.8800000000000001"/>
<line x1="96.8" y1="552.5" x2="94.1" y2="555.2" stroke="#D8D0C0" stroke-width="0.8800000000000001"/>
<line x1="107.9" y1="533.6" x2="105.7" y2="530.4" stroke="#D8D0C0" stroke-width="0.8800000000000001"/>
<line x1="102.5" y1="558.5" x2="99.8" y2="561.3" stroke="#D8D0C0" stroke-width="0.8800000000000001"/>
<line x1="116.0" y1="531.2" x2="113.7" y2="528.1" stroke="#D8D0C0" stroke-width="0.8800000000000001"/>
<line x1="107.8" y1="563.7" x2="104.8" y2="566.0" stroke="#D8D0C0" stroke-width="0.8800000000000001"/>
<line x1="122.1" y1="532.0" x2="125.2" y2="529.8" stroke="#D8D0C0" stroke-width="0.8800000000000001"/>
<line x1="113.6" y1="564.2" x2="116.0" y2="567.2" stroke="#D8D0C0" stroke-width="0.8800000000000001"/>
<line x1="130.8" y1="534.4" x2="130.6" y2="530.6" stroke="#D8D0C0" stroke-width="0.8800000000000001"/>
<line x1="131.2" y1="564.7" x2="129.0" y2="567.9" stroke="#D8D0C0" stroke-width="0.8800000000000001"/>
<line x1="135.7" y1="565.7" x2="136.6" y2="569.4" stroke="#D8D0C0" stroke-width="0.8800000000000001"/>
<line x1="154.0" y1="558.9" x2="157.4" y2="560.7" stroke="#D8D0C0" stroke-width="0.8800000000000001"/>
<line x1="151.7" y1="565.4" x2="155.5" y2="564.8" stroke="#D8D0C0" stroke-width="0.8800000000000001"/>
<line x1="148.7" y1="569.4" x2="149.1" y2="573.3" stroke="#D8D0C0" stroke-width="0.8800000000000001"/>
<circle cx="100.7" cy="535.9" r="1.90" fill="url(#gC2)"/>
<circle cx="96.7" cy="540.2" r="1.90" fill="url(#gC2)"/>
<circle cx="97.8" cy="544.2" r="1.90" fill="url(#gC2)"/>
<circle cx="96.1" cy="546.9" r="1.90" fill="url(#gC2)"/>
<circle cx="96.8" cy="552.5" r="1.90" fill="url(#gC2)"/>
<circle cx="107.9" cy="533.6" r="1.90" fill="url(#gC2)"/>
<circle cx="105.7" cy="537.2" r="1.90" fill="url(#gC2)"/>
<circle cx="107.1" cy="541.3" r="1.90" fill="url(#gC2)"/>
<circle cx="102.9" cy="544.7" r="1.90" fill="url(#gC2)"/>
<circle cx="104.7" cy="550.7" r="1.90" fill="url(#gC2)"/>
<circle cx="101.5" cy="553.9" r="1.90" fill="url(#gC2)"/>
<circle cx="102.5" cy="558.5" r="1.90" fill="url(#gC2)"/>
<circle cx="116.0" cy="531.2" r="1.90" fill="url(#gC2)"/>
<circle cx="113.7" cy="535.4" r="1.90" fill="url(#gC2)"/>
<circle cx="114.6" cy="538.9" r="1.90" fill="url(#gC2)"/>
<circle cx="110.9" cy="542.5" r="1.90" fill="url(#gC2)"/>
<circle cx="112.3" cy="548.2" r="1.90" fill="url(#gC2)"/>
<circle cx="108.8" cy="551.8" r="1.90" fill="url(#gC2)"/>
<circle cx="111.4" cy="554.9" r="1.90" fill="url(#gC2)"/>
<circle cx="107.1" cy="559.2" r="1.90" fill="url(#gC2)"/>
<circle cx="107.8" cy="563.7" r="1.90" fill="url(#gC2)"/>
<circle cx="122.1" cy="532.0" r="1.90" fill="url(#gC2)"/>
<circle cx="122.9" cy="536.6" r="1.90" fill="url(#gC2)"/>
<circle cx="119.5" cy="541.5" r="1.90" fill="url(#gC2)"/>
<circle cx="120.1" cy="544.5" r="1.90" fill="url(#gC2)"/>
<circle cx="116.6" cy="548.9" r="1.90" fill="url(#gC2)"/>
<circle cx="117.8" cy="552.7" r="1.90" fill="url(#gC2)"/>
<circle cx="115.3" cy="557.7" r="1.90" fill="url(#gC2)"/>
<circle cx="116.5" cy="561.3" r="1.90" fill="url(#gC2)"/>
<circle cx="113.6" cy="564.2" r="1.90" fill="url(#gC2)"/>
<circle cx="130.8" cy="534.4" r="1.90" fill="url(#gC2)"/>
<circle cx="127.5" cy="539.3" r="1.90" fill="url(#gC2)"/>
<circle cx="127.9" cy="543.2" r="1.90" fill="url(#gC2)"/>
<circle cx="125.5" cy="545.9" r="1.90" fill="url(#gC2)"/>
<circle cx="126.2" cy="552.1" r="1.90" fill="url(#gC2)"/>
<circle cx="124.2" cy="553.9" r="1.90" fill="url(#gC2)"/>
<circle cx="125.0" cy="560.0" r="1.90" fill="url(#gC2)"/>
<circle cx="120.8" cy="562.9" r="1.90" fill="url(#gC2)"/>
<circle cx="134.5" cy="535.9" r="1.90" fill="url(#gC2)"/>
<circle cx="137.0" cy="541.0" r="1.90" fill="url(#gC2)"/>
<circle cx="133.8" cy="543.5" r="1.90" fill="url(#gC2)"/>
<circle cx="134.4" cy="549.5" r="1.90" fill="url(#gC2)"/>
<circle cx="131.5" cy="552.2" r="1.90" fill="url(#gC2)"/>
<circle cx="132.5" cy="557.8" r="1.90" fill="url(#gC2)"/>
<circle cx="129.4" cy="559.5" r="1.90" fill="url(#gC2)"/>
<circle cx="131.2" cy="564.7" r="1.90" fill="url(#gC2)"/>
<circle cx="141.2" cy="541.4" r="1.90" fill="url(#gC2)"/>
<circle cx="142.5" cy="546.3" r="1.90" fill="url(#gC2)"/>
<circle cx="138.6" cy="550.3" r="1.90" fill="url(#gC2)"/>
<circle cx="139.9" cy="555.2" r="1.90" fill="url(#gC2)"/>
<circle cx="136.4" cy="558.6" r="1.90" fill="url(#gC2)"/>
<circle cx="139.2" cy="562.7" r="1.90" fill="url(#gC2)"/>
<circle cx="135.7" cy="565.7" r="1.90" fill="url(#gC2)"/>
<circle cx="147.7" cy="547.6" r="1.90" fill="url(#gC2)"/>
<circle cx="148.1" cy="553.2" r="1.90" fill="url(#gC2)"/>
<circle cx="145.1" cy="555.6" r="1.90" fill="url(#gC2)"/>
<circle cx="147.3" cy="560.2" r="1.90" fill="url(#gC2)"/>
<circle cx="143.6" cy="563.3" r="1.90" fill="url(#gC2)"/>
<circle cx="145.2" cy="568.1" r="1.90" fill="url(#gC2)"/>
<circle cx="152.5" cy="554.4" r="1.90" fill="url(#gC2)"/>
<circle cx="154.0" cy="558.9" r="1.90" fill="url(#gC2)"/>
<circle cx="152.1" cy="561.8" r="1.90" fill="url(#gC2)"/>
<circle cx="151.7" cy="565.4" r="1.90" fill="url(#gC2)"/>
<circle cx="148.7" cy="569.4" r="1.90" fill="url(#gC2)"/>
<circle cx="99.9" cy="532.1" r="1.20" fill="url(#gH)"/>
<circle cx="93.6" cy="544.0" r="1.20" fill="url(#gH)"/>
<circle cx="94.1" cy="555.2" r="1.20" fill="url(#gH)"/>
<circle cx="105.7" cy="530.4" r="1.20" fill="url(#gH)"/>
<circle cx="99.8" cy="561.3" r="1.20" fill="url(#gH)"/>
<circle cx="113.7" cy="528.1" r="1.20" fill="url(#gH)"/>
<circle cx="104.8" cy="566.0" r="1.20" fill="url(#gH)"/>
<circle cx="125.2" cy="529.8" r="1.20" fill="url(#gH)"/>
<circle cx="116.0" cy="567.2" r="1.20" fill="url(#gH)"/>
<circle cx="130.6" cy="530.6" r="1.20" fill="url(#gH)"/>
<circle cx="129.0" cy="567.9" r="1.20" fill="url(#gH)"/>
<circle cx="136.6" cy="569.4" r="1.20" fill="url(#gH)"/>
<circle cx="157.4" cy="560.7" r="1.20" fill="url(#gH)"/>
<circle cx="155.5" cy="564.8" r="1.20" fill="url(#gH)"/>
<circle cx="149.1" cy="573.3" r="1.20" fill="url(#gH)"/>
<ellipse cx="107.6" cy="547.6" rx="5.0" ry="3.5" fill="url(#gB)" opacity="0.95" transform="rotate(-10 107.6 547.6)"/>
<ellipse cx="102.4" cy="548.9" rx="3.0" ry="3.0" fill="url(#gG)" opacity="0.95"/>
<ellipse cx="120.4" cy="545.0" rx="4.0" ry="3.0" fill="url(#gG)" opacity="0.95"/>
<ellipse cx="115.3" cy="552.7" rx="4.0" ry="3.0" fill="url(#gB)" opacity="0.95"/>
<ellipse cx="106.3" cy="559.1" rx="4.0" ry="3.0" fill="url(#gB)" opacity="0.95"/>
<ellipse cx="102.4" cy="555.3" rx="2.5" ry="2.5" fill="url(#gG)" opacity="0.95"/>
<ellipse cx="98.6" cy="536.0" rx="2.0" ry="2.0" fill="url(#gG)" opacity="0.95"/>
<ellipse cx="115.3" cy="543.7" rx="2.5" ry="2.5" fill="url(#gG)" opacity="0.95"/>
<ellipse cx="107.0" cy="560.5" rx="2.6" ry="2.3" fill="url(#gG)" opacity="0.95"/>
<line x1="104.0" y1="524.5" x2="107.0" y2="531.0" stroke="#D5BC8C" stroke-width="1.1"/>
<line x1="104.0" y1="524.5" x2="100.0" y2="521.0" stroke="#DDD" stroke-width="0.8"/>
<line x1="104.0" y1="524.5" x2="110.0" y2="521.0" stroke="#DDD" stroke-width="0.8"/>
<circle cx="104.0" cy="524.5" r="2.00" fill="url(#gC2)"/>
<circle cx="107.0" cy="531.0" r="1.90" fill="url(#gC2)"/>
<circle cx="100.0" cy="521.0" r="1.10" fill="url(#gH)"/>
<circle cx="110.0" cy="521.0" r="1.10" fill="url(#gH)"/>
<line x1="196.6" y1="430.4" x2="205.2" y2="437.8" stroke="#B0925E" stroke-width="1.3"/>
<line x1="205.2" y1="437.8" x2="210.1" y2="445.0" stroke="#B0925E" stroke-width="1.3"/>
<line x1="196.6" y1="430.4" x2="192.3" y2="440.0" stroke="#B0925E" stroke-width="1.3"/>
<line x1="192.3" y1="440.0" x2="200.3" y2="447.6" stroke="#B0925E" stroke-width="1.3"/>
<line x1="200.3" y1="447.6" x2="210.1" y2="445.0" stroke="#B0925E" stroke-width="1.3"/>
<line x1="210.1" y1="445.0" x2="217.5" y2="454.4" stroke="#B0925E" stroke-width="1.3"/>
<line x1="217.5" y1="454.4" x2="223.0" y2="455.0" stroke="#B0925E" stroke-width="1.3"/>
<line x1="217.5" y1="454.4" x2="216.2" y2="462.4" stroke="#B0925E" stroke-width="1.3"/>
<line x1="217.5" y1="454.4" x2="226.0" y2="447.0" stroke="#B0925E" stroke-width="1.3"/>
<line x1="226.0" y1="447.0" x2="232.2" y2="435.3" stroke="#B0925E" stroke-width="1.3"/>
<line x1="232.2" y1="435.3" x2="238.3" y2="422.4" stroke="#B0925E" stroke-width="1.3"/>
<line x1="238.3" y1="422.4" x2="246.0" y2="427.0" stroke="#B0925E" stroke-width="1.3"/>
<line x1="246.0" y1="427.0" x2="243.3" y2="437.8" stroke="#B0925E" stroke-width="1.3"/>
<line x1="243.3" y1="437.8" x2="236.0" y2="437.0" stroke="#B0925E" stroke-width="1.3"/>
<line x1="186.0" y1="426.0" x2="192.3" y2="432.0" stroke="#B0925E" stroke-width="1.3"/>
<ellipse cx="180.6" cy="429.2" rx="5.0" ry="4.4" fill="url(#gB)" opacity="0.95"/>
<ellipse cx="185.5" cy="424.3" rx="4.4" ry="4.4" fill="url(#gG)" opacity="0.95"/>
<ellipse cx="192.3" cy="436.6" rx="5.5" ry="8.8" fill="url(#gG)" opacity="0.95" transform="rotate(-30 192.3 436.6)"/>
<ellipse cx="198.4" cy="428.0" rx="3.9" ry="3.9" fill="url(#gB)" opacity="0.95"/>
<ellipse cx="195.3" cy="439.6" rx="3.9" ry="3.9" fill="url(#gB)" opacity="0.95"/>
<ellipse cx="210.1" cy="442.7" rx="4.4" ry="5.5" fill="url(#gG)" opacity="0.95"/>
<ellipse cx="204.6" cy="448.9" rx="5.0" ry="5.5" fill="url(#gB)" opacity="0.95"/>
<ellipse cx="221.1" cy="455.6" rx="3.9" ry="3.9" fill="url(#gG)" opacity="0.95"/>
<ellipse cx="224.2" cy="446.4" rx="4.4" ry="5.0" fill="url(#gB)" opacity="0.95"/>
<ellipse cx="229.7" cy="450.1" rx="4.4" ry="5.5" fill="url(#gG)" opacity="0.95"/>
<ellipse cx="229.1" cy="432.9" rx="3.9" ry="5.5" fill="url(#gG)" opacity="0.95"/>
<ellipse cx="232.2" cy="435.3" rx="4.4" ry="6.6" fill="url(#gB)" opacity="0.95"/>
<ellipse cx="234.7" cy="440.3" rx="3.3" ry="3.3" fill="url(#gB)" opacity="0.95"/>
<ellipse cx="238.3" cy="422.4" rx="4.4" ry="3.9" fill="url(#gB)" opacity="0.95"/>
<ellipse cx="245.7" cy="425.5" rx="8.8" ry="5.5" fill="url(#gG)" opacity="0.95"/>
<ellipse cx="240.2" cy="437.2" rx="3.3" ry="3.3" fill="url(#gG)" opacity="0.95"/>
<ellipse cx="245.1" cy="441.5" rx="4.4" ry="4.4" fill="url(#gB)" opacity="0.95"/>
<ellipse cx="215.6" cy="463.6" rx="2.2" ry="2.0" fill="url(#gG)" opacity="0.95"/>
<circle cx="196.6" cy="430.4" r="1.80" fill="url(#gC)"/>
<circle cx="205.2" cy="437.8" r="2.20" fill="url(#gC)"/>
<circle cx="200.3" cy="447.6" r="1.80" fill="url(#gC)"/>
<circle cx="180.0" cy="421.2" r="1.30" fill="url(#gH)"/>
<circle cx="194.7" cy="423.1" r="1.30" fill="url(#gH)"/>
<circle cx="211.3" cy="435.3" r="1.30" fill="url(#gH)"/>
<circle cx="238.3" cy="416.9" r="1.30" fill="url(#gH)"/>
<circle cx="252.5" cy="422.4" r="1.30" fill="url(#gH)"/>
<circle cx="217.5" cy="454.4" r="2.60" fill="url(#gS)"/>
<circle cx="243.3" cy="437.8" r="2.30" fill="url(#gS)"/>
<circle cx="223.0" cy="455.0" r="1.80" fill="url(#gO)"/>
<circle cx="216.2" cy="462.4" r="2.00" fill="url(#gO)"/>
</svg>
</body></html>
